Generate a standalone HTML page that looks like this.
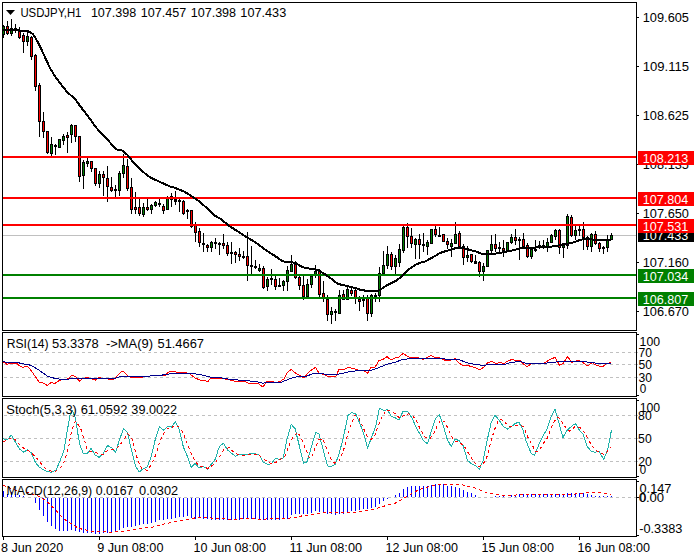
<!DOCTYPE html>
<html><head><meta charset="utf-8"><title>USDJPY,H1</title>
<style>
html,body{margin:0;padding:0;background:#fff;width:700px;height:560px;overflow:hidden}
svg{display:block}
text{font-family:"Liberation Sans", sans-serif;font-size:12.5px;fill-opacity:1}
</style></head><body>
<svg width="700" height="560" viewBox="0 0 700 560" shape-rendering="crispEdges">
<rect x="2" y="2" width="635" height="1" fill="#000"/>
<rect x="2" y="330" width="635" height="1" fill="#000"/>
<rect x="2" y="2" width="1" height="329" fill="#000"/>
<rect x="636" y="2" width="1" height="329" fill="#000"/>
<rect x="2" y="332" width="635" height="1" fill="#000"/>
<rect x="2" y="396" width="635" height="1" fill="#000"/>
<rect x="2" y="332" width="1" height="65" fill="#000"/>
<rect x="636" y="332" width="1" height="65" fill="#000"/>
<rect x="2" y="398" width="635" height="1" fill="#000"/>
<rect x="2" y="477" width="635" height="1" fill="#000"/>
<rect x="2" y="398" width="1" height="80" fill="#000"/>
<rect x="636" y="398" width="1" height="80" fill="#000"/>
<rect x="2" y="479" width="635" height="1" fill="#000"/>
<rect x="2" y="536" width="635" height="1" fill="#000"/>
<rect x="2" y="479" width="1" height="58" fill="#000"/>
<rect x="636" y="479" width="1" height="58" fill="#000"/>
<rect x="3" y="235" width="633" height="1" fill="#c0c0c0"/>
<rect x="3" y="25" width="1" height="13" fill="#000"/>
<rect x="2" y="26" width="3" height="9" fill="#000"/>
<rect x="3" y="27" width="1" height="7" fill="#008000"/>
<rect x="7" y="21" width="1" height="14" fill="#000"/>
<rect x="6" y="26" width="3" height="8" fill="#000"/>
<rect x="7" y="27" width="1" height="6" fill="#ff0000"/>
<rect x="11" y="19" width="1" height="17" fill="#000"/>
<rect x="10" y="28" width="3" height="6" fill="#000"/>
<rect x="11" y="29" width="1" height="4" fill="#008000"/>
<rect x="15" y="24" width="1" height="9" fill="#000"/>
<rect x="14" y="28" width="3" height="3" fill="#000"/>
<rect x="15" y="29" width="1" height="1" fill="#000"/>
<rect x="19" y="27" width="1" height="12" fill="#000"/>
<rect x="18" y="31" width="3" height="7" fill="#000"/>
<rect x="19" y="32" width="1" height="5" fill="#ff0000"/>
<rect x="23" y="33" width="1" height="20" fill="#000"/>
<rect x="22" y="35" width="3" height="7" fill="#000"/>
<rect x="23" y="36" width="1" height="5" fill="#ff0000"/>
<rect x="27" y="32" width="1" height="14" fill="#000"/>
<rect x="26" y="36" width="3" height="6" fill="#000"/>
<rect x="27" y="37" width="1" height="4" fill="#008000"/>
<rect x="31" y="36" width="1" height="24" fill="#000"/>
<rect x="30" y="37" width="3" height="20" fill="#000"/>
<rect x="31" y="38" width="1" height="18" fill="#ff0000"/>
<rect x="35" y="54" width="1" height="37" fill="#000"/>
<rect x="34" y="55" width="3" height="32" fill="#000"/>
<rect x="35" y="56" width="1" height="30" fill="#ff0000"/>
<rect x="39" y="83" width="1" height="54" fill="#000"/>
<rect x="38" y="85" width="3" height="37" fill="#000"/>
<rect x="39" y="86" width="1" height="35" fill="#ff0000"/>
<rect x="43" y="112" width="1" height="26" fill="#000"/>
<rect x="42" y="121" width="3" height="11" fill="#000"/>
<rect x="43" y="122" width="1" height="9" fill="#ff0000"/>
<rect x="47" y="131" width="1" height="23" fill="#000"/>
<rect x="46" y="131" width="3" height="22" fill="#000"/>
<rect x="47" y="132" width="1" height="20" fill="#ff0000"/>
<rect x="51" y="137" width="1" height="20" fill="#000"/>
<rect x="50" y="144" width="3" height="10" fill="#000"/>
<rect x="51" y="145" width="1" height="8" fill="#008000"/>
<rect x="55" y="144" width="1" height="11" fill="#000"/>
<rect x="54" y="145" width="3" height="2" fill="#000"/>
<rect x="59" y="139" width="1" height="9" fill="#000"/>
<rect x="58" y="139" width="3" height="9" fill="#000"/>
<rect x="59" y="140" width="1" height="7" fill="#008000"/>
<rect x="63" y="134" width="1" height="11" fill="#000"/>
<rect x="62" y="136" width="3" height="5" fill="#000"/>
<rect x="63" y="137" width="1" height="3" fill="#008000"/>
<rect x="67" y="132" width="1" height="21" fill="#000"/>
<rect x="66" y="135" width="3" height="3" fill="#000"/>
<rect x="67" y="136" width="1" height="1" fill="#ff0000"/>
<rect x="71" y="124" width="1" height="19" fill="#000"/>
<rect x="70" y="125" width="3" height="10" fill="#000"/>
<rect x="71" y="126" width="1" height="8" fill="#008000"/>
<rect x="75" y="125" width="1" height="17" fill="#000"/>
<rect x="74" y="125" width="3" height="12" fill="#000"/>
<rect x="75" y="126" width="1" height="10" fill="#ff0000"/>
<rect x="79" y="136" width="1" height="46" fill="#000"/>
<rect x="78" y="136" width="3" height="41" fill="#000"/>
<rect x="79" y="137" width="1" height="39" fill="#ff0000"/>
<rect x="83" y="160" width="1" height="29" fill="#000"/>
<rect x="82" y="162" width="3" height="14" fill="#000"/>
<rect x="83" y="163" width="1" height="12" fill="#008000"/>
<rect x="87" y="158" width="1" height="9" fill="#000"/>
<rect x="86" y="161" width="3" height="3" fill="#000"/>
<rect x="87" y="162" width="1" height="1" fill="#008000"/>
<rect x="91" y="161" width="1" height="11" fill="#000"/>
<rect x="90" y="161" width="3" height="8" fill="#000"/>
<rect x="91" y="162" width="1" height="6" fill="#ff0000"/>
<rect x="95" y="168" width="1" height="18" fill="#000"/>
<rect x="94" y="168" width="3" height="16" fill="#000"/>
<rect x="95" y="169" width="1" height="14" fill="#ff0000"/>
<rect x="99" y="171" width="1" height="17" fill="#000"/>
<rect x="98" y="174" width="3" height="10" fill="#000"/>
<rect x="99" y="175" width="1" height="8" fill="#008000"/>
<rect x="103" y="171" width="1" height="25" fill="#000"/>
<rect x="102" y="174" width="3" height="4" fill="#000"/>
<rect x="103" y="175" width="1" height="2" fill="#ff0000"/>
<rect x="107" y="166" width="1" height="36" fill="#000"/>
<rect x="106" y="178" width="3" height="9" fill="#000"/>
<rect x="107" y="179" width="1" height="7" fill="#ff0000"/>
<rect x="111" y="177" width="1" height="15" fill="#000"/>
<rect x="110" y="187" width="3" height="4" fill="#000"/>
<rect x="111" y="188" width="1" height="2" fill="#ff0000"/>
<rect x="115" y="185" width="1" height="13" fill="#000"/>
<rect x="114" y="189" width="3" height="2" fill="#000"/>
<rect x="119" y="171" width="1" height="25" fill="#000"/>
<rect x="118" y="173" width="3" height="18" fill="#000"/>
<rect x="119" y="174" width="1" height="16" fill="#008000"/>
<rect x="123" y="154" width="1" height="24" fill="#000"/>
<rect x="122" y="165" width="3" height="9" fill="#000"/>
<rect x="123" y="166" width="1" height="7" fill="#008000"/>
<rect x="127" y="159" width="1" height="32" fill="#000"/>
<rect x="126" y="166" width="3" height="23" fill="#000"/>
<rect x="127" y="167" width="1" height="21" fill="#ff0000"/>
<rect x="131" y="178" width="1" height="36" fill="#000"/>
<rect x="130" y="187" width="3" height="23" fill="#000"/>
<rect x="131" y="188" width="1" height="21" fill="#ff0000"/>
<rect x="135" y="192" width="1" height="22" fill="#000"/>
<rect x="134" y="207" width="3" height="3" fill="#000"/>
<rect x="135" y="208" width="1" height="1" fill="#ff0000"/>
<rect x="139" y="199" width="1" height="17" fill="#000"/>
<rect x="138" y="207" width="3" height="7" fill="#000"/>
<rect x="139" y="208" width="1" height="5" fill="#ff0000"/>
<rect x="143" y="203" width="1" height="14" fill="#000"/>
<rect x="142" y="207" width="3" height="8" fill="#000"/>
<rect x="143" y="208" width="1" height="6" fill="#008000"/>
<rect x="147" y="199" width="1" height="12" fill="#000"/>
<rect x="146" y="207" width="3" height="3" fill="#000"/>
<rect x="147" y="208" width="1" height="1" fill="#ff0000"/>
<rect x="151" y="204" width="1" height="10" fill="#000"/>
<rect x="150" y="205" width="3" height="5" fill="#000"/>
<rect x="151" y="206" width="1" height="3" fill="#008000"/>
<rect x="155" y="201" width="1" height="6" fill="#000"/>
<rect x="154" y="202" width="3" height="4" fill="#000"/>
<rect x="155" y="203" width="1" height="2" fill="#008000"/>
<rect x="159" y="199" width="1" height="8" fill="#000"/>
<rect x="158" y="203" width="3" height="2" fill="#000"/>
<rect x="163" y="204" width="1" height="10" fill="#000"/>
<rect x="162" y="206" width="3" height="5" fill="#000"/>
<rect x="163" y="207" width="1" height="3" fill="#ff0000"/>
<rect x="167" y="196" width="1" height="14" fill="#000"/>
<rect x="166" y="197" width="3" height="13" fill="#000"/>
<rect x="167" y="198" width="1" height="11" fill="#008000"/>
<rect x="171" y="193" width="1" height="14" fill="#000"/>
<rect x="170" y="196" width="3" height="4" fill="#000"/>
<rect x="171" y="197" width="1" height="2" fill="#008000"/>
<rect x="175" y="191" width="1" height="14" fill="#000"/>
<rect x="174" y="199" width="3" height="3" fill="#000"/>
<rect x="175" y="200" width="1" height="1" fill="#000"/>
<rect x="179" y="199" width="1" height="13" fill="#000"/>
<rect x="178" y="200" width="3" height="2" fill="#000"/>
<rect x="183" y="200" width="1" height="15" fill="#000"/>
<rect x="182" y="201" width="3" height="13" fill="#000"/>
<rect x="183" y="202" width="1" height="11" fill="#ff0000"/>
<rect x="187" y="209" width="1" height="10" fill="#000"/>
<rect x="186" y="210" width="3" height="2" fill="#000"/>
<rect x="191" y="210" width="1" height="18" fill="#000"/>
<rect x="190" y="210" width="3" height="17" fill="#000"/>
<rect x="191" y="211" width="1" height="15" fill="#ff0000"/>
<rect x="195" y="222" width="1" height="20" fill="#000"/>
<rect x="194" y="225" width="3" height="8" fill="#000"/>
<rect x="195" y="226" width="1" height="6" fill="#ff0000"/>
<rect x="199" y="228" width="1" height="19" fill="#000"/>
<rect x="198" y="231" width="3" height="12" fill="#000"/>
<rect x="199" y="232" width="1" height="10" fill="#ff0000"/>
<rect x="203" y="233" width="1" height="19" fill="#000"/>
<rect x="202" y="243" width="3" height="2" fill="#000"/>
<rect x="207" y="244" width="1" height="8" fill="#000"/>
<rect x="206" y="245" width="3" height="3" fill="#000"/>
<rect x="207" y="246" width="1" height="1" fill="#ff0000"/>
<rect x="211" y="241" width="1" height="11" fill="#000"/>
<rect x="210" y="242" width="3" height="6" fill="#000"/>
<rect x="211" y="243" width="1" height="4" fill="#008000"/>
<rect x="215" y="238" width="1" height="11" fill="#000"/>
<rect x="214" y="242" width="3" height="2" fill="#000"/>
<rect x="219" y="242" width="1" height="13" fill="#000"/>
<rect x="218" y="243" width="3" height="2" fill="#000"/>
<rect x="223" y="234" width="1" height="15" fill="#000"/>
<rect x="222" y="243" width="3" height="3" fill="#000"/>
<rect x="223" y="244" width="1" height="1" fill="#ff0000"/>
<rect x="227" y="242" width="1" height="14" fill="#000"/>
<rect x="226" y="245" width="3" height="9" fill="#000"/>
<rect x="227" y="246" width="1" height="7" fill="#ff0000"/>
<rect x="231" y="242" width="1" height="22" fill="#000"/>
<rect x="230" y="252" width="3" height="2" fill="#000"/>
<rect x="235" y="251" width="1" height="12" fill="#000"/>
<rect x="234" y="252" width="3" height="3" fill="#000"/>
<rect x="235" y="253" width="1" height="1" fill="#ff0000"/>
<rect x="239" y="248" width="1" height="13" fill="#000"/>
<rect x="238" y="254" width="3" height="3" fill="#000"/>
<rect x="239" y="255" width="1" height="1" fill="#ff0000"/>
<rect x="243" y="251" width="1" height="8" fill="#000"/>
<rect x="242" y="256" width="3" height="2" fill="#000"/>
<rect x="247" y="232" width="1" height="49" fill="#000"/>
<rect x="246" y="256" width="3" height="10" fill="#000"/>
<rect x="247" y="257" width="1" height="8" fill="#ff0000"/>
<rect x="251" y="246" width="1" height="29" fill="#000"/>
<rect x="250" y="265" width="3" height="2" fill="#000"/>
<rect x="255" y="260" width="1" height="9" fill="#000"/>
<rect x="254" y="266" width="3" height="2" fill="#000"/>
<rect x="259" y="264" width="1" height="8" fill="#000"/>
<rect x="258" y="268" width="3" height="3" fill="#000"/>
<rect x="259" y="269" width="1" height="1" fill="#008000"/>
<rect x="263" y="266" width="1" height="23" fill="#000"/>
<rect x="262" y="268" width="3" height="20" fill="#000"/>
<rect x="263" y="269" width="1" height="18" fill="#ff0000"/>
<rect x="267" y="277" width="1" height="14" fill="#000"/>
<rect x="266" y="279" width="3" height="8" fill="#000"/>
<rect x="267" y="280" width="1" height="6" fill="#008000"/>
<rect x="271" y="269" width="1" height="16" fill="#000"/>
<rect x="270" y="278" width="3" height="2" fill="#000"/>
<rect x="275" y="276" width="1" height="14" fill="#000"/>
<rect x="274" y="279" width="3" height="8" fill="#000"/>
<rect x="275" y="280" width="1" height="6" fill="#ff0000"/>
<rect x="279" y="278" width="1" height="9" fill="#000"/>
<rect x="278" y="285" width="3" height="2" fill="#000"/>
<rect x="283" y="280" width="1" height="11" fill="#000"/>
<rect x="282" y="281" width="3" height="5" fill="#000"/>
<rect x="283" y="282" width="1" height="3" fill="#008000"/>
<rect x="287" y="266" width="1" height="25" fill="#000"/>
<rect x="286" y="270" width="3" height="12" fill="#000"/>
<rect x="287" y="271" width="1" height="10" fill="#008000"/>
<rect x="291" y="255" width="1" height="17" fill="#000"/>
<rect x="290" y="264" width="3" height="8" fill="#000"/>
<rect x="291" y="265" width="1" height="6" fill="#008000"/>
<rect x="295" y="261" width="1" height="18" fill="#000"/>
<rect x="294" y="264" width="3" height="14" fill="#000"/>
<rect x="295" y="265" width="1" height="12" fill="#ff0000"/>
<rect x="299" y="276" width="1" height="14" fill="#000"/>
<rect x="298" y="277" width="3" height="9" fill="#000"/>
<rect x="299" y="278" width="1" height="7" fill="#ff0000"/>
<rect x="303" y="276" width="1" height="24" fill="#000"/>
<rect x="302" y="285" width="3" height="12" fill="#000"/>
<rect x="303" y="286" width="1" height="10" fill="#ff0000"/>
<rect x="307" y="279" width="1" height="18" fill="#000"/>
<rect x="306" y="284" width="3" height="13" fill="#000"/>
<rect x="307" y="285" width="1" height="11" fill="#008000"/>
<rect x="311" y="274" width="1" height="14" fill="#000"/>
<rect x="310" y="276" width="3" height="9" fill="#000"/>
<rect x="311" y="277" width="1" height="7" fill="#008000"/>
<rect x="315" y="265" width="1" height="13" fill="#000"/>
<rect x="314" y="271" width="3" height="5" fill="#000"/>
<rect x="315" y="272" width="1" height="3" fill="#008000"/>
<rect x="319" y="269" width="1" height="28" fill="#000"/>
<rect x="318" y="271" width="3" height="24" fill="#000"/>
<rect x="319" y="272" width="1" height="22" fill="#ff0000"/>
<rect x="323" y="281" width="1" height="21" fill="#000"/>
<rect x="322" y="293" width="3" height="5" fill="#000"/>
<rect x="323" y="294" width="1" height="3" fill="#ff0000"/>
<rect x="327" y="295" width="1" height="26" fill="#000"/>
<rect x="326" y="299" width="3" height="16" fill="#000"/>
<rect x="327" y="300" width="1" height="14" fill="#ff0000"/>
<rect x="331" y="307" width="1" height="17" fill="#000"/>
<rect x="330" y="311" width="3" height="4" fill="#000"/>
<rect x="331" y="312" width="1" height="2" fill="#008000"/>
<rect x="335" y="309" width="1" height="12" fill="#000"/>
<rect x="334" y="311" width="3" height="2" fill="#000"/>
<rect x="339" y="290" width="1" height="24" fill="#000"/>
<rect x="338" y="295" width="3" height="19" fill="#000"/>
<rect x="339" y="296" width="1" height="17" fill="#008000"/>
<rect x="343" y="290" width="1" height="10" fill="#000"/>
<rect x="342" y="294" width="3" height="6" fill="#000"/>
<rect x="343" y="295" width="1" height="4" fill="#ff0000"/>
<rect x="347" y="287" width="1" height="13" fill="#000"/>
<rect x="346" y="289" width="3" height="11" fill="#000"/>
<rect x="347" y="290" width="1" height="9" fill="#008000"/>
<rect x="351" y="288" width="1" height="8" fill="#000"/>
<rect x="350" y="290" width="3" height="4" fill="#000"/>
<rect x="351" y="291" width="1" height="2" fill="#ff0000"/>
<rect x="355" y="289" width="1" height="15" fill="#000"/>
<rect x="354" y="290" width="3" height="8" fill="#000"/>
<rect x="355" y="291" width="1" height="6" fill="#ff0000"/>
<rect x="359" y="296" width="1" height="15" fill="#000"/>
<rect x="358" y="299" width="3" height="3" fill="#000"/>
<rect x="359" y="300" width="1" height="1" fill="#ff0000"/>
<rect x="363" y="295" width="1" height="12" fill="#000"/>
<rect x="362" y="299" width="3" height="2" fill="#000"/>
<rect x="367" y="295" width="1" height="26" fill="#000"/>
<rect x="366" y="298" width="3" height="16" fill="#000"/>
<rect x="367" y="299" width="1" height="14" fill="#ff0000"/>
<rect x="371" y="294" width="1" height="23" fill="#000"/>
<rect x="370" y="295" width="3" height="19" fill="#000"/>
<rect x="371" y="296" width="1" height="17" fill="#008000"/>
<rect x="375" y="293" width="1" height="9" fill="#000"/>
<rect x="374" y="295" width="3" height="2" fill="#000"/>
<rect x="379" y="267" width="1" height="35" fill="#000"/>
<rect x="378" y="273" width="3" height="23" fill="#000"/>
<rect x="379" y="274" width="1" height="21" fill="#008000"/>
<rect x="383" y="251" width="1" height="23" fill="#000"/>
<rect x="382" y="265" width="3" height="9" fill="#000"/>
<rect x="383" y="266" width="1" height="7" fill="#008000"/>
<rect x="387" y="246" width="1" height="23" fill="#000"/>
<rect x="386" y="254" width="3" height="12" fill="#000"/>
<rect x="387" y="255" width="1" height="10" fill="#008000"/>
<rect x="391" y="252" width="1" height="18" fill="#000"/>
<rect x="390" y="254" width="3" height="13" fill="#000"/>
<rect x="391" y="255" width="1" height="11" fill="#ff0000"/>
<rect x="395" y="255" width="1" height="19" fill="#000"/>
<rect x="394" y="258" width="3" height="9" fill="#000"/>
<rect x="395" y="259" width="1" height="7" fill="#008000"/>
<rect x="399" y="244" width="1" height="23" fill="#000"/>
<rect x="398" y="249" width="3" height="14" fill="#000"/>
<rect x="399" y="250" width="1" height="12" fill="#008000"/>
<rect x="403" y="226" width="1" height="27" fill="#000"/>
<rect x="402" y="227" width="3" height="24" fill="#000"/>
<rect x="403" y="228" width="1" height="22" fill="#008000"/>
<rect x="407" y="223" width="1" height="25" fill="#000"/>
<rect x="406" y="227" width="3" height="10" fill="#000"/>
<rect x="407" y="228" width="1" height="8" fill="#ff0000"/>
<rect x="411" y="228" width="1" height="20" fill="#000"/>
<rect x="410" y="236" width="3" height="8" fill="#000"/>
<rect x="411" y="237" width="1" height="6" fill="#ff0000"/>
<rect x="415" y="238" width="1" height="21" fill="#000"/>
<rect x="414" y="239" width="3" height="6" fill="#000"/>
<rect x="415" y="240" width="1" height="4" fill="#008000"/>
<rect x="419" y="234" width="1" height="25" fill="#000"/>
<rect x="418" y="239" width="3" height="6" fill="#000"/>
<rect x="419" y="240" width="1" height="4" fill="#ff0000"/>
<rect x="423" y="233" width="1" height="19" fill="#000"/>
<rect x="422" y="244" width="3" height="2" fill="#000"/>
<rect x="427" y="240" width="1" height="15" fill="#000"/>
<rect x="426" y="242" width="3" height="5" fill="#000"/>
<rect x="427" y="243" width="1" height="3" fill="#008000"/>
<rect x="431" y="229" width="1" height="15" fill="#000"/>
<rect x="430" y="229" width="3" height="15" fill="#000"/>
<rect x="431" y="230" width="1" height="13" fill="#008000"/>
<rect x="435" y="226" width="1" height="11" fill="#000"/>
<rect x="434" y="229" width="3" height="6" fill="#000"/>
<rect x="435" y="230" width="1" height="4" fill="#ff0000"/>
<rect x="439" y="227" width="1" height="10" fill="#000"/>
<rect x="438" y="235" width="3" height="2" fill="#000"/>
<rect x="443" y="234" width="1" height="8" fill="#000"/>
<rect x="442" y="234" width="3" height="8" fill="#000"/>
<rect x="443" y="235" width="1" height="6" fill="#ff0000"/>
<rect x="447" y="238" width="1" height="11" fill="#000"/>
<rect x="446" y="241" width="3" height="4" fill="#000"/>
<rect x="447" y="242" width="1" height="2" fill="#ff0000"/>
<rect x="451" y="239" width="1" height="18" fill="#000"/>
<rect x="450" y="243" width="3" height="4" fill="#000"/>
<rect x="451" y="244" width="1" height="2" fill="#008000"/>
<rect x="455" y="222" width="1" height="22" fill="#000"/>
<rect x="454" y="234" width="3" height="10" fill="#000"/>
<rect x="455" y="235" width="1" height="8" fill="#008000"/>
<rect x="459" y="231" width="1" height="17" fill="#000"/>
<rect x="458" y="233" width="3" height="14" fill="#000"/>
<rect x="459" y="234" width="1" height="12" fill="#ff0000"/>
<rect x="463" y="244" width="1" height="21" fill="#000"/>
<rect x="462" y="246" width="3" height="12" fill="#000"/>
<rect x="463" y="247" width="1" height="10" fill="#ff0000"/>
<rect x="467" y="246" width="1" height="16" fill="#000"/>
<rect x="466" y="255" width="3" height="3" fill="#000"/>
<rect x="467" y="256" width="1" height="1" fill="#008000"/>
<rect x="471" y="254" width="1" height="9" fill="#000"/>
<rect x="470" y="254" width="3" height="8" fill="#000"/>
<rect x="471" y="255" width="1" height="6" fill="#ff0000"/>
<rect x="475" y="255" width="1" height="9" fill="#000"/>
<rect x="474" y="261" width="3" height="3" fill="#000"/>
<rect x="475" y="262" width="1" height="1" fill="#000"/>
<rect x="479" y="261" width="1" height="16" fill="#000"/>
<rect x="478" y="262" width="3" height="10" fill="#000"/>
<rect x="479" y="263" width="1" height="8" fill="#ff0000"/>
<rect x="483" y="263" width="1" height="18" fill="#000"/>
<rect x="482" y="266" width="3" height="6" fill="#000"/>
<rect x="483" y="267" width="1" height="4" fill="#008000"/>
<rect x="487" y="250" width="1" height="17" fill="#000"/>
<rect x="486" y="250" width="3" height="17" fill="#000"/>
<rect x="487" y="251" width="1" height="15" fill="#008000"/>
<rect x="491" y="235" width="1" height="18" fill="#000"/>
<rect x="490" y="244" width="3" height="7" fill="#000"/>
<rect x="491" y="245" width="1" height="5" fill="#008000"/>
<rect x="495" y="234" width="1" height="18" fill="#000"/>
<rect x="494" y="244" width="3" height="5" fill="#000"/>
<rect x="495" y="245" width="1" height="3" fill="#ff0000"/>
<rect x="499" y="242" width="1" height="10" fill="#000"/>
<rect x="498" y="247" width="3" height="2" fill="#000"/>
<rect x="503" y="240" width="1" height="17" fill="#000"/>
<rect x="502" y="248" width="3" height="3" fill="#000"/>
<rect x="503" y="249" width="1" height="1" fill="#ff0000"/>
<rect x="507" y="242" width="1" height="9" fill="#000"/>
<rect x="506" y="242" width="3" height="9" fill="#000"/>
<rect x="507" y="243" width="1" height="7" fill="#008000"/>
<rect x="511" y="234" width="1" height="10" fill="#000"/>
<rect x="510" y="237" width="3" height="6" fill="#000"/>
<rect x="511" y="238" width="1" height="4" fill="#008000"/>
<rect x="515" y="229" width="1" height="16" fill="#000"/>
<rect x="514" y="237" width="3" height="4" fill="#000"/>
<rect x="515" y="238" width="1" height="2" fill="#ff0000"/>
<rect x="519" y="237" width="1" height="23" fill="#000"/>
<rect x="518" y="239" width="3" height="2" fill="#000"/>
<rect x="523" y="233" width="1" height="15" fill="#000"/>
<rect x="522" y="239" width="3" height="8" fill="#000"/>
<rect x="523" y="240" width="1" height="6" fill="#ff0000"/>
<rect x="527" y="243" width="1" height="15" fill="#000"/>
<rect x="526" y="245" width="3" height="12" fill="#000"/>
<rect x="527" y="246" width="1" height="10" fill="#ff0000"/>
<rect x="531" y="247" width="1" height="12" fill="#000"/>
<rect x="530" y="249" width="3" height="8" fill="#000"/>
<rect x="531" y="250" width="1" height="6" fill="#008000"/>
<rect x="535" y="240" width="1" height="12" fill="#000"/>
<rect x="534" y="249" width="3" height="2" fill="#000"/>
<rect x="539" y="241" width="1" height="8" fill="#000"/>
<rect x="538" y="245" width="3" height="3" fill="#000"/>
<rect x="539" y="246" width="1" height="1" fill="#008000"/>
<rect x="543" y="240" width="1" height="9" fill="#000"/>
<rect x="542" y="245" width="3" height="3" fill="#000"/>
<rect x="543" y="246" width="1" height="1" fill="#000"/>
<rect x="547" y="238" width="1" height="14" fill="#000"/>
<rect x="546" y="242" width="3" height="6" fill="#000"/>
<rect x="547" y="243" width="1" height="4" fill="#008000"/>
<rect x="551" y="234" width="1" height="9" fill="#000"/>
<rect x="550" y="235" width="3" height="8" fill="#000"/>
<rect x="551" y="236" width="1" height="6" fill="#008000"/>
<rect x="555" y="229" width="1" height="11" fill="#000"/>
<rect x="554" y="230" width="3" height="7" fill="#000"/>
<rect x="555" y="231" width="1" height="5" fill="#008000"/>
<rect x="559" y="229" width="1" height="25" fill="#000"/>
<rect x="558" y="230" width="3" height="18" fill="#000"/>
<rect x="559" y="231" width="1" height="16" fill="#ff0000"/>
<rect x="563" y="244" width="1" height="14" fill="#000"/>
<rect x="562" y="245" width="3" height="3" fill="#000"/>
<rect x="563" y="246" width="1" height="1" fill="#008000"/>
<rect x="567" y="214" width="1" height="35" fill="#000"/>
<rect x="566" y="216" width="3" height="30" fill="#000"/>
<rect x="567" y="217" width="1" height="28" fill="#008000"/>
<rect x="571" y="215" width="1" height="22" fill="#000"/>
<rect x="570" y="217" width="3" height="19" fill="#000"/>
<rect x="571" y="218" width="1" height="17" fill="#ff0000"/>
<rect x="575" y="226" width="1" height="14" fill="#000"/>
<rect x="574" y="230" width="3" height="6" fill="#000"/>
<rect x="575" y="231" width="1" height="4" fill="#008000"/>
<rect x="579" y="226" width="1" height="10" fill="#000"/>
<rect x="578" y="229" width="3" height="2" fill="#000"/>
<rect x="583" y="222" width="1" height="28" fill="#000"/>
<rect x="582" y="229" width="3" height="9" fill="#000"/>
<rect x="583" y="230" width="1" height="7" fill="#ff0000"/>
<rect x="587" y="236" width="1" height="14" fill="#000"/>
<rect x="586" y="237" width="3" height="10" fill="#000"/>
<rect x="587" y="238" width="1" height="8" fill="#ff0000"/>
<rect x="591" y="233" width="1" height="19" fill="#000"/>
<rect x="590" y="234" width="3" height="13" fill="#000"/>
<rect x="591" y="235" width="1" height="11" fill="#008000"/>
<rect x="595" y="231" width="1" height="14" fill="#000"/>
<rect x="594" y="234" width="3" height="10" fill="#000"/>
<rect x="595" y="235" width="1" height="8" fill="#ff0000"/>
<rect x="599" y="242" width="1" height="10" fill="#000"/>
<rect x="598" y="243" width="3" height="6" fill="#000"/>
<rect x="599" y="244" width="1" height="4" fill="#ff0000"/>
<rect x="603" y="246" width="1" height="8" fill="#000"/>
<rect x="602" y="247" width="3" height="2" fill="#000"/>
<rect x="607" y="235" width="1" height="17" fill="#000"/>
<rect x="606" y="239" width="3" height="9" fill="#000"/>
<rect x="607" y="240" width="1" height="7" fill="#008000"/>
<rect x="611" y="233" width="1" height="7" fill="#000"/>
<rect x="610" y="235" width="3" height="5" fill="#000"/>
<rect x="611" y="236" width="1" height="3" fill="#008000"/>
<rect x="3" y="156" width="633" height="2" fill="#ff0000"/>
<rect x="3" y="197" width="633" height="2" fill="#ff0000"/>
<rect x="3" y="224" width="633" height="2" fill="#ff0000"/>
<rect x="3" y="274" width="633" height="2" fill="#008000"/>
<rect x="3" y="297" width="633" height="2" fill="#008000"/>
<path d="M3.0,29.8 L16.0,30.0 L21.0,30.6 L26.5,30.9 L30.0,31.9 L33.0,34.3 L35.0,37.0 L39.6,45.5 L44.6,56.3 L49.5,67.1 L55.4,77.0 L61.3,84.8 L68.1,93.1 L75.0,98.6 L79.0,104.5 L85.0,112.5 L90.0,118.8 L95.0,126.2 L100.0,131.9 L105.0,136.8 L110.0,142.5 L115.0,148.1 L117.5,149.8 L122.5,150.6 L127.5,155.0 L132.5,161.2 L137.5,166.2 L140.0,169.0 L145.0,173.5 L150.0,177.3 L160.0,182.0 L170.0,186.4 L175.0,187.9 L185.0,192.0 L192.0,196.4 L200.0,202.0 L205.0,206.4 L210.0,210.7 L215.0,215.7 L220.0,218.6 L230.0,226.4 L240.0,232.9 L248.0,237.9 L255.0,242.0 L265.0,249.5 L275.0,256.0 L283.0,261.4 L290.0,262.1 L296.0,262.9 L300.0,266.0 L305.0,267.9 L312.0,268.9 L318.0,270.0 L325.0,274.3 L332.0,279.3 L338.0,284.0 L345.0,285.4 L350.0,286.9 L355.0,287.9 L360.0,289.7 L370.0,291.5 L377.0,291.3 L381.0,289.3 L387.0,285.3 L396.0,280.8 L401.0,277.0 L405.0,273.0 L410.0,268.5 L415.0,265.0 L420.0,262.8 L425.0,261.5 L430.0,258.8 L435.0,256.0 L440.0,253.0 L446.0,251.0 L451.0,249.6 L458.0,247.5 L465.0,248.5 L470.0,250.0 L475.0,251.1 L480.0,253.2 L485.0,254.5 L490.0,254.3 L495.0,253.6 L500.0,252.9 L510.0,251.0 L520.0,248.4 L530.0,247.9 L540.0,247.1 L550.0,246.7 L555.0,246.1 L560.0,245.0 L564.0,243.9 L570.0,243.3 L575.0,241.9 L580.0,240.0 L585.0,238.6 L590.0,239.3 L600.0,240.0 L611.0,240.4" fill="none" stroke="#000" stroke-width="2" stroke-linejoin="round" shape-rendering="crispEdges"/>
<rect x="637" y="17" width="2" height="1" fill="#000"/>
<rect x="637" y="66" width="2" height="1" fill="#000"/>
<rect x="637" y="115" width="2" height="1" fill="#000"/>
<rect x="637" y="164" width="2" height="1" fill="#000"/>
<rect x="637" y="213" width="2" height="1" fill="#000"/>
<rect x="637" y="262" width="2" height="1" fill="#000"/>
<rect x="637" y="311" width="2" height="1" fill="#000"/>
<text x="642.78" y="22" textLength="46.21" lengthAdjust="spacingAndGlyphs">109.605</text>
<text x="642.75" y="71" textLength="46.32" lengthAdjust="spacingAndGlyphs">109.115</text>
<text x="642.78" y="120" textLength="46.21" lengthAdjust="spacingAndGlyphs">108.625</text>
<text x="642.78" y="169" textLength="46.21" lengthAdjust="spacingAndGlyphs">108.135</text>
<text x="642.78" y="218" textLength="46.21" lengthAdjust="spacingAndGlyphs">107.650</text>
<text x="642.78" y="267" textLength="46.21" lengthAdjust="spacingAndGlyphs">107.160</text>
<text x="642.78" y="316" textLength="46.21" lengthAdjust="spacingAndGlyphs">106.670</text>
<rect x="638" y="228" width="56" height="14" fill="#000"/>
<text x="642.79" y="240" textLength="45.50" lengthAdjust="spacingAndGlyphs" fill="#fff">107.433</text>
<rect x="638" y="151" width="56" height="14" fill="#ff0000"/>
<text x="642.79" y="163" textLength="45.50" lengthAdjust="spacingAndGlyphs" fill="#fff">108.213</text>
<rect x="638" y="192" width="56" height="14" fill="#ff0000"/>
<text x="642.79" y="204" textLength="45.50" lengthAdjust="spacingAndGlyphs" fill="#fff">107.804</text>
<rect x="638" y="219" width="56" height="14" fill="#ff0000"/>
<text x="642.79" y="231" textLength="45.50" lengthAdjust="spacingAndGlyphs" fill="#fff">107.531</text>
<rect x="638" y="269" width="56" height="14" fill="#008000"/>
<text x="642.79" y="281" textLength="45.50" lengthAdjust="spacingAndGlyphs" fill="#fff">107.034</text>
<rect x="638" y="292" width="56" height="14" fill="#008000"/>
<text x="642.79" y="304" textLength="45.50" lengthAdjust="spacingAndGlyphs" fill="#fff">106.807</text>
<path d="M6,10 L15,10 L10.5,15 Z" fill="#000" shape-rendering="auto"/>
<text x="20.39" y="17" textLength="61.07" lengthAdjust="spacingAndGlyphs">USDJPY,H1</text>
<text x="90.90" y="17" textLength="45.39" lengthAdjust="spacingAndGlyphs">107.398</text>
<text x="140.80" y="17" textLength="45.39" lengthAdjust="spacingAndGlyphs">107.457</text>
<text x="190.70" y="17" textLength="45.39" lengthAdjust="spacingAndGlyphs">107.398</text>
<text x="240.39" y="17" textLength="45.80" lengthAdjust="spacingAndGlyphs">107.433</text>
<rect x="4" y="352" width="3" height="1" fill="#c0c0c0"/>
<rect x="10" y="352" width="3" height="1" fill="#c0c0c0"/>
<rect x="16" y="352" width="3" height="1" fill="#c0c0c0"/>
<rect x="22" y="352" width="3" height="1" fill="#c0c0c0"/>
<rect x="28" y="352" width="3" height="1" fill="#c0c0c0"/>
<rect x="34" y="352" width="3" height="1" fill="#c0c0c0"/>
<rect x="40" y="352" width="3" height="1" fill="#c0c0c0"/>
<rect x="46" y="352" width="3" height="1" fill="#c0c0c0"/>
<rect x="52" y="352" width="3" height="1" fill="#c0c0c0"/>
<rect x="58" y="352" width="3" height="1" fill="#c0c0c0"/>
<rect x="64" y="352" width="3" height="1" fill="#c0c0c0"/>
<rect x="70" y="352" width="3" height="1" fill="#c0c0c0"/>
<rect x="76" y="352" width="3" height="1" fill="#c0c0c0"/>
<rect x="82" y="352" width="3" height="1" fill="#c0c0c0"/>
<rect x="88" y="352" width="3" height="1" fill="#c0c0c0"/>
<rect x="94" y="352" width="3" height="1" fill="#c0c0c0"/>
<rect x="100" y="352" width="3" height="1" fill="#c0c0c0"/>
<rect x="106" y="352" width="3" height="1" fill="#c0c0c0"/>
<rect x="112" y="352" width="3" height="1" fill="#c0c0c0"/>
<rect x="118" y="352" width="3" height="1" fill="#c0c0c0"/>
<rect x="124" y="352" width="3" height="1" fill="#c0c0c0"/>
<rect x="130" y="352" width="3" height="1" fill="#c0c0c0"/>
<rect x="136" y="352" width="3" height="1" fill="#c0c0c0"/>
<rect x="142" y="352" width="3" height="1" fill="#c0c0c0"/>
<rect x="148" y="352" width="3" height="1" fill="#c0c0c0"/>
<rect x="154" y="352" width="3" height="1" fill="#c0c0c0"/>
<rect x="160" y="352" width="3" height="1" fill="#c0c0c0"/>
<rect x="166" y="352" width="3" height="1" fill="#c0c0c0"/>
<rect x="172" y="352" width="3" height="1" fill="#c0c0c0"/>
<rect x="178" y="352" width="3" height="1" fill="#c0c0c0"/>
<rect x="184" y="352" width="3" height="1" fill="#c0c0c0"/>
<rect x="190" y="352" width="3" height="1" fill="#c0c0c0"/>
<rect x="196" y="352" width="3" height="1" fill="#c0c0c0"/>
<rect x="202" y="352" width="3" height="1" fill="#c0c0c0"/>
<rect x="208" y="352" width="3" height="1" fill="#c0c0c0"/>
<rect x="214" y="352" width="3" height="1" fill="#c0c0c0"/>
<rect x="220" y="352" width="3" height="1" fill="#c0c0c0"/>
<rect x="226" y="352" width="3" height="1" fill="#c0c0c0"/>
<rect x="232" y="352" width="3" height="1" fill="#c0c0c0"/>
<rect x="238" y="352" width="3" height="1" fill="#c0c0c0"/>
<rect x="244" y="352" width="3" height="1" fill="#c0c0c0"/>
<rect x="250" y="352" width="3" height="1" fill="#c0c0c0"/>
<rect x="256" y="352" width="3" height="1" fill="#c0c0c0"/>
<rect x="262" y="352" width="3" height="1" fill="#c0c0c0"/>
<rect x="268" y="352" width="3" height="1" fill="#c0c0c0"/>
<rect x="274" y="352" width="3" height="1" fill="#c0c0c0"/>
<rect x="280" y="352" width="3" height="1" fill="#c0c0c0"/>
<rect x="286" y="352" width="3" height="1" fill="#c0c0c0"/>
<rect x="292" y="352" width="3" height="1" fill="#c0c0c0"/>
<rect x="298" y="352" width="3" height="1" fill="#c0c0c0"/>
<rect x="304" y="352" width="3" height="1" fill="#c0c0c0"/>
<rect x="310" y="352" width="3" height="1" fill="#c0c0c0"/>
<rect x="316" y="352" width="3" height="1" fill="#c0c0c0"/>
<rect x="322" y="352" width="3" height="1" fill="#c0c0c0"/>
<rect x="328" y="352" width="3" height="1" fill="#c0c0c0"/>
<rect x="334" y="352" width="3" height="1" fill="#c0c0c0"/>
<rect x="340" y="352" width="3" height="1" fill="#c0c0c0"/>
<rect x="346" y="352" width="3" height="1" fill="#c0c0c0"/>
<rect x="352" y="352" width="3" height="1" fill="#c0c0c0"/>
<rect x="358" y="352" width="3" height="1" fill="#c0c0c0"/>
<rect x="364" y="352" width="3" height="1" fill="#c0c0c0"/>
<rect x="370" y="352" width="3" height="1" fill="#c0c0c0"/>
<rect x="376" y="352" width="3" height="1" fill="#c0c0c0"/>
<rect x="382" y="352" width="3" height="1" fill="#c0c0c0"/>
<rect x="388" y="352" width="3" height="1" fill="#c0c0c0"/>
<rect x="394" y="352" width="3" height="1" fill="#c0c0c0"/>
<rect x="400" y="352" width="3" height="1" fill="#c0c0c0"/>
<rect x="406" y="352" width="3" height="1" fill="#c0c0c0"/>
<rect x="412" y="352" width="3" height="1" fill="#c0c0c0"/>
<rect x="418" y="352" width="3" height="1" fill="#c0c0c0"/>
<rect x="424" y="352" width="3" height="1" fill="#c0c0c0"/>
<rect x="430" y="352" width="3" height="1" fill="#c0c0c0"/>
<rect x="436" y="352" width="3" height="1" fill="#c0c0c0"/>
<rect x="442" y="352" width="3" height="1" fill="#c0c0c0"/>
<rect x="448" y="352" width="3" height="1" fill="#c0c0c0"/>
<rect x="454" y="352" width="3" height="1" fill="#c0c0c0"/>
<rect x="460" y="352" width="3" height="1" fill="#c0c0c0"/>
<rect x="466" y="352" width="3" height="1" fill="#c0c0c0"/>
<rect x="472" y="352" width="3" height="1" fill="#c0c0c0"/>
<rect x="478" y="352" width="3" height="1" fill="#c0c0c0"/>
<rect x="484" y="352" width="3" height="1" fill="#c0c0c0"/>
<rect x="490" y="352" width="3" height="1" fill="#c0c0c0"/>
<rect x="496" y="352" width="3" height="1" fill="#c0c0c0"/>
<rect x="502" y="352" width="3" height="1" fill="#c0c0c0"/>
<rect x="508" y="352" width="3" height="1" fill="#c0c0c0"/>
<rect x="514" y="352" width="3" height="1" fill="#c0c0c0"/>
<rect x="520" y="352" width="3" height="1" fill="#c0c0c0"/>
<rect x="526" y="352" width="3" height="1" fill="#c0c0c0"/>
<rect x="532" y="352" width="3" height="1" fill="#c0c0c0"/>
<rect x="538" y="352" width="3" height="1" fill="#c0c0c0"/>
<rect x="544" y="352" width="3" height="1" fill="#c0c0c0"/>
<rect x="550" y="352" width="3" height="1" fill="#c0c0c0"/>
<rect x="556" y="352" width="3" height="1" fill="#c0c0c0"/>
<rect x="562" y="352" width="3" height="1" fill="#c0c0c0"/>
<rect x="568" y="352" width="3" height="1" fill="#c0c0c0"/>
<rect x="574" y="352" width="3" height="1" fill="#c0c0c0"/>
<rect x="580" y="352" width="3" height="1" fill="#c0c0c0"/>
<rect x="586" y="352" width="3" height="1" fill="#c0c0c0"/>
<rect x="592" y="352" width="3" height="1" fill="#c0c0c0"/>
<rect x="598" y="352" width="3" height="1" fill="#c0c0c0"/>
<rect x="604" y="352" width="3" height="1" fill="#c0c0c0"/>
<rect x="610" y="352" width="3" height="1" fill="#c0c0c0"/>
<rect x="616" y="352" width="3" height="1" fill="#c0c0c0"/>
<rect x="622" y="352" width="3" height="1" fill="#c0c0c0"/>
<rect x="628" y="352" width="3" height="1" fill="#c0c0c0"/>
<rect x="634" y="352" width="2" height="1" fill="#c0c0c0"/>
<rect x="637" y="352" width="1" height="1" fill="#c0c0c0"/>
<rect x="4" y="364" width="3" height="1" fill="#c0c0c0"/>
<rect x="10" y="364" width="3" height="1" fill="#c0c0c0"/>
<rect x="16" y="364" width="3" height="1" fill="#c0c0c0"/>
<rect x="22" y="364" width="3" height="1" fill="#c0c0c0"/>
<rect x="28" y="364" width="3" height="1" fill="#c0c0c0"/>
<rect x="34" y="364" width="3" height="1" fill="#c0c0c0"/>
<rect x="40" y="364" width="3" height="1" fill="#c0c0c0"/>
<rect x="46" y="364" width="3" height="1" fill="#c0c0c0"/>
<rect x="52" y="364" width="3" height="1" fill="#c0c0c0"/>
<rect x="58" y="364" width="3" height="1" fill="#c0c0c0"/>
<rect x="64" y="364" width="3" height="1" fill="#c0c0c0"/>
<rect x="70" y="364" width="3" height="1" fill="#c0c0c0"/>
<rect x="76" y="364" width="3" height="1" fill="#c0c0c0"/>
<rect x="82" y="364" width="3" height="1" fill="#c0c0c0"/>
<rect x="88" y="364" width="3" height="1" fill="#c0c0c0"/>
<rect x="94" y="364" width="3" height="1" fill="#c0c0c0"/>
<rect x="100" y="364" width="3" height="1" fill="#c0c0c0"/>
<rect x="106" y="364" width="3" height="1" fill="#c0c0c0"/>
<rect x="112" y="364" width="3" height="1" fill="#c0c0c0"/>
<rect x="118" y="364" width="3" height="1" fill="#c0c0c0"/>
<rect x="124" y="364" width="3" height="1" fill="#c0c0c0"/>
<rect x="130" y="364" width="3" height="1" fill="#c0c0c0"/>
<rect x="136" y="364" width="3" height="1" fill="#c0c0c0"/>
<rect x="142" y="364" width="3" height="1" fill="#c0c0c0"/>
<rect x="148" y="364" width="3" height="1" fill="#c0c0c0"/>
<rect x="154" y="364" width="3" height="1" fill="#c0c0c0"/>
<rect x="160" y="364" width="3" height="1" fill="#c0c0c0"/>
<rect x="166" y="364" width="3" height="1" fill="#c0c0c0"/>
<rect x="172" y="364" width="3" height="1" fill="#c0c0c0"/>
<rect x="178" y="364" width="3" height="1" fill="#c0c0c0"/>
<rect x="184" y="364" width="3" height="1" fill="#c0c0c0"/>
<rect x="190" y="364" width="3" height="1" fill="#c0c0c0"/>
<rect x="196" y="364" width="3" height="1" fill="#c0c0c0"/>
<rect x="202" y="364" width="3" height="1" fill="#c0c0c0"/>
<rect x="208" y="364" width="3" height="1" fill="#c0c0c0"/>
<rect x="214" y="364" width="3" height="1" fill="#c0c0c0"/>
<rect x="220" y="364" width="3" height="1" fill="#c0c0c0"/>
<rect x="226" y="364" width="3" height="1" fill="#c0c0c0"/>
<rect x="232" y="364" width="3" height="1" fill="#c0c0c0"/>
<rect x="238" y="364" width="3" height="1" fill="#c0c0c0"/>
<rect x="244" y="364" width="3" height="1" fill="#c0c0c0"/>
<rect x="250" y="364" width="3" height="1" fill="#c0c0c0"/>
<rect x="256" y="364" width="3" height="1" fill="#c0c0c0"/>
<rect x="262" y="364" width="3" height="1" fill="#c0c0c0"/>
<rect x="268" y="364" width="3" height="1" fill="#c0c0c0"/>
<rect x="274" y="364" width="3" height="1" fill="#c0c0c0"/>
<rect x="280" y="364" width="3" height="1" fill="#c0c0c0"/>
<rect x="286" y="364" width="3" height="1" fill="#c0c0c0"/>
<rect x="292" y="364" width="3" height="1" fill="#c0c0c0"/>
<rect x="298" y="364" width="3" height="1" fill="#c0c0c0"/>
<rect x="304" y="364" width="3" height="1" fill="#c0c0c0"/>
<rect x="310" y="364" width="3" height="1" fill="#c0c0c0"/>
<rect x="316" y="364" width="3" height="1" fill="#c0c0c0"/>
<rect x="322" y="364" width="3" height="1" fill="#c0c0c0"/>
<rect x="328" y="364" width="3" height="1" fill="#c0c0c0"/>
<rect x="334" y="364" width="3" height="1" fill="#c0c0c0"/>
<rect x="340" y="364" width="3" height="1" fill="#c0c0c0"/>
<rect x="346" y="364" width="3" height="1" fill="#c0c0c0"/>
<rect x="352" y="364" width="3" height="1" fill="#c0c0c0"/>
<rect x="358" y="364" width="3" height="1" fill="#c0c0c0"/>
<rect x="364" y="364" width="3" height="1" fill="#c0c0c0"/>
<rect x="370" y="364" width="3" height="1" fill="#c0c0c0"/>
<rect x="376" y="364" width="3" height="1" fill="#c0c0c0"/>
<rect x="382" y="364" width="3" height="1" fill="#c0c0c0"/>
<rect x="388" y="364" width="3" height="1" fill="#c0c0c0"/>
<rect x="394" y="364" width="3" height="1" fill="#c0c0c0"/>
<rect x="400" y="364" width="3" height="1" fill="#c0c0c0"/>
<rect x="406" y="364" width="3" height="1" fill="#c0c0c0"/>
<rect x="412" y="364" width="3" height="1" fill="#c0c0c0"/>
<rect x="418" y="364" width="3" height="1" fill="#c0c0c0"/>
<rect x="424" y="364" width="3" height="1" fill="#c0c0c0"/>
<rect x="430" y="364" width="3" height="1" fill="#c0c0c0"/>
<rect x="436" y="364" width="3" height="1" fill="#c0c0c0"/>
<rect x="442" y="364" width="3" height="1" fill="#c0c0c0"/>
<rect x="448" y="364" width="3" height="1" fill="#c0c0c0"/>
<rect x="454" y="364" width="3" height="1" fill="#c0c0c0"/>
<rect x="460" y="364" width="3" height="1" fill="#c0c0c0"/>
<rect x="466" y="364" width="3" height="1" fill="#c0c0c0"/>
<rect x="472" y="364" width="3" height="1" fill="#c0c0c0"/>
<rect x="478" y="364" width="3" height="1" fill="#c0c0c0"/>
<rect x="484" y="364" width="3" height="1" fill="#c0c0c0"/>
<rect x="490" y="364" width="3" height="1" fill="#c0c0c0"/>
<rect x="496" y="364" width="3" height="1" fill="#c0c0c0"/>
<rect x="502" y="364" width="3" height="1" fill="#c0c0c0"/>
<rect x="508" y="364" width="3" height="1" fill="#c0c0c0"/>
<rect x="514" y="364" width="3" height="1" fill="#c0c0c0"/>
<rect x="520" y="364" width="3" height="1" fill="#c0c0c0"/>
<rect x="526" y="364" width="3" height="1" fill="#c0c0c0"/>
<rect x="532" y="364" width="3" height="1" fill="#c0c0c0"/>
<rect x="538" y="364" width="3" height="1" fill="#c0c0c0"/>
<rect x="544" y="364" width="3" height="1" fill="#c0c0c0"/>
<rect x="550" y="364" width="3" height="1" fill="#c0c0c0"/>
<rect x="556" y="364" width="3" height="1" fill="#c0c0c0"/>
<rect x="562" y="364" width="3" height="1" fill="#c0c0c0"/>
<rect x="568" y="364" width="3" height="1" fill="#c0c0c0"/>
<rect x="574" y="364" width="3" height="1" fill="#c0c0c0"/>
<rect x="580" y="364" width="3" height="1" fill="#c0c0c0"/>
<rect x="586" y="364" width="3" height="1" fill="#c0c0c0"/>
<rect x="592" y="364" width="3" height="1" fill="#c0c0c0"/>
<rect x="598" y="364" width="3" height="1" fill="#c0c0c0"/>
<rect x="604" y="364" width="3" height="1" fill="#c0c0c0"/>
<rect x="610" y="364" width="3" height="1" fill="#c0c0c0"/>
<rect x="616" y="364" width="3" height="1" fill="#c0c0c0"/>
<rect x="622" y="364" width="3" height="1" fill="#c0c0c0"/>
<rect x="628" y="364" width="3" height="1" fill="#c0c0c0"/>
<rect x="634" y="364" width="2" height="1" fill="#c0c0c0"/>
<rect x="637" y="364" width="1" height="1" fill="#c0c0c0"/>
<rect x="4" y="377" width="3" height="1" fill="#c0c0c0"/>
<rect x="10" y="377" width="3" height="1" fill="#c0c0c0"/>
<rect x="16" y="377" width="3" height="1" fill="#c0c0c0"/>
<rect x="22" y="377" width="3" height="1" fill="#c0c0c0"/>
<rect x="28" y="377" width="3" height="1" fill="#c0c0c0"/>
<rect x="34" y="377" width="3" height="1" fill="#c0c0c0"/>
<rect x="40" y="377" width="3" height="1" fill="#c0c0c0"/>
<rect x="46" y="377" width="3" height="1" fill="#c0c0c0"/>
<rect x="52" y="377" width="3" height="1" fill="#c0c0c0"/>
<rect x="58" y="377" width="3" height="1" fill="#c0c0c0"/>
<rect x="64" y="377" width="3" height="1" fill="#c0c0c0"/>
<rect x="70" y="377" width="3" height="1" fill="#c0c0c0"/>
<rect x="76" y="377" width="3" height="1" fill="#c0c0c0"/>
<rect x="82" y="377" width="3" height="1" fill="#c0c0c0"/>
<rect x="88" y="377" width="3" height="1" fill="#c0c0c0"/>
<rect x="94" y="377" width="3" height="1" fill="#c0c0c0"/>
<rect x="100" y="377" width="3" height="1" fill="#c0c0c0"/>
<rect x="106" y="377" width="3" height="1" fill="#c0c0c0"/>
<rect x="112" y="377" width="3" height="1" fill="#c0c0c0"/>
<rect x="118" y="377" width="3" height="1" fill="#c0c0c0"/>
<rect x="124" y="377" width="3" height="1" fill="#c0c0c0"/>
<rect x="130" y="377" width="3" height="1" fill="#c0c0c0"/>
<rect x="136" y="377" width="3" height="1" fill="#c0c0c0"/>
<rect x="142" y="377" width="3" height="1" fill="#c0c0c0"/>
<rect x="148" y="377" width="3" height="1" fill="#c0c0c0"/>
<rect x="154" y="377" width="3" height="1" fill="#c0c0c0"/>
<rect x="160" y="377" width="3" height="1" fill="#c0c0c0"/>
<rect x="166" y="377" width="3" height="1" fill="#c0c0c0"/>
<rect x="172" y="377" width="3" height="1" fill="#c0c0c0"/>
<rect x="178" y="377" width="3" height="1" fill="#c0c0c0"/>
<rect x="184" y="377" width="3" height="1" fill="#c0c0c0"/>
<rect x="190" y="377" width="3" height="1" fill="#c0c0c0"/>
<rect x="196" y="377" width="3" height="1" fill="#c0c0c0"/>
<rect x="202" y="377" width="3" height="1" fill="#c0c0c0"/>
<rect x="208" y="377" width="3" height="1" fill="#c0c0c0"/>
<rect x="214" y="377" width="3" height="1" fill="#c0c0c0"/>
<rect x="220" y="377" width="3" height="1" fill="#c0c0c0"/>
<rect x="226" y="377" width="3" height="1" fill="#c0c0c0"/>
<rect x="232" y="377" width="3" height="1" fill="#c0c0c0"/>
<rect x="238" y="377" width="3" height="1" fill="#c0c0c0"/>
<rect x="244" y="377" width="3" height="1" fill="#c0c0c0"/>
<rect x="250" y="377" width="3" height="1" fill="#c0c0c0"/>
<rect x="256" y="377" width="3" height="1" fill="#c0c0c0"/>
<rect x="262" y="377" width="3" height="1" fill="#c0c0c0"/>
<rect x="268" y="377" width="3" height="1" fill="#c0c0c0"/>
<rect x="274" y="377" width="3" height="1" fill="#c0c0c0"/>
<rect x="280" y="377" width="3" height="1" fill="#c0c0c0"/>
<rect x="286" y="377" width="3" height="1" fill="#c0c0c0"/>
<rect x="292" y="377" width="3" height="1" fill="#c0c0c0"/>
<rect x="298" y="377" width="3" height="1" fill="#c0c0c0"/>
<rect x="304" y="377" width="3" height="1" fill="#c0c0c0"/>
<rect x="310" y="377" width="3" height="1" fill="#c0c0c0"/>
<rect x="316" y="377" width="3" height="1" fill="#c0c0c0"/>
<rect x="322" y="377" width="3" height="1" fill="#c0c0c0"/>
<rect x="328" y="377" width="3" height="1" fill="#c0c0c0"/>
<rect x="334" y="377" width="3" height="1" fill="#c0c0c0"/>
<rect x="340" y="377" width="3" height="1" fill="#c0c0c0"/>
<rect x="346" y="377" width="3" height="1" fill="#c0c0c0"/>
<rect x="352" y="377" width="3" height="1" fill="#c0c0c0"/>
<rect x="358" y="377" width="3" height="1" fill="#c0c0c0"/>
<rect x="364" y="377" width="3" height="1" fill="#c0c0c0"/>
<rect x="370" y="377" width="3" height="1" fill="#c0c0c0"/>
<rect x="376" y="377" width="3" height="1" fill="#c0c0c0"/>
<rect x="382" y="377" width="3" height="1" fill="#c0c0c0"/>
<rect x="388" y="377" width="3" height="1" fill="#c0c0c0"/>
<rect x="394" y="377" width="3" height="1" fill="#c0c0c0"/>
<rect x="400" y="377" width="3" height="1" fill="#c0c0c0"/>
<rect x="406" y="377" width="3" height="1" fill="#c0c0c0"/>
<rect x="412" y="377" width="3" height="1" fill="#c0c0c0"/>
<rect x="418" y="377" width="3" height="1" fill="#c0c0c0"/>
<rect x="424" y="377" width="3" height="1" fill="#c0c0c0"/>
<rect x="430" y="377" width="3" height="1" fill="#c0c0c0"/>
<rect x="436" y="377" width="3" height="1" fill="#c0c0c0"/>
<rect x="442" y="377" width="3" height="1" fill="#c0c0c0"/>
<rect x="448" y="377" width="3" height="1" fill="#c0c0c0"/>
<rect x="454" y="377" width="3" height="1" fill="#c0c0c0"/>
<rect x="460" y="377" width="3" height="1" fill="#c0c0c0"/>
<rect x="466" y="377" width="3" height="1" fill="#c0c0c0"/>
<rect x="472" y="377" width="3" height="1" fill="#c0c0c0"/>
<rect x="478" y="377" width="3" height="1" fill="#c0c0c0"/>
<rect x="484" y="377" width="3" height="1" fill="#c0c0c0"/>
<rect x="490" y="377" width="3" height="1" fill="#c0c0c0"/>
<rect x="496" y="377" width="3" height="1" fill="#c0c0c0"/>
<rect x="502" y="377" width="3" height="1" fill="#c0c0c0"/>
<rect x="508" y="377" width="3" height="1" fill="#c0c0c0"/>
<rect x="514" y="377" width="3" height="1" fill="#c0c0c0"/>
<rect x="520" y="377" width="3" height="1" fill="#c0c0c0"/>
<rect x="526" y="377" width="3" height="1" fill="#c0c0c0"/>
<rect x="532" y="377" width="3" height="1" fill="#c0c0c0"/>
<rect x="538" y="377" width="3" height="1" fill="#c0c0c0"/>
<rect x="544" y="377" width="3" height="1" fill="#c0c0c0"/>
<rect x="550" y="377" width="3" height="1" fill="#c0c0c0"/>
<rect x="556" y="377" width="3" height="1" fill="#c0c0c0"/>
<rect x="562" y="377" width="3" height="1" fill="#c0c0c0"/>
<rect x="568" y="377" width="3" height="1" fill="#c0c0c0"/>
<rect x="574" y="377" width="3" height="1" fill="#c0c0c0"/>
<rect x="580" y="377" width="3" height="1" fill="#c0c0c0"/>
<rect x="586" y="377" width="3" height="1" fill="#c0c0c0"/>
<rect x="592" y="377" width="3" height="1" fill="#c0c0c0"/>
<rect x="598" y="377" width="3" height="1" fill="#c0c0c0"/>
<rect x="604" y="377" width="3" height="1" fill="#c0c0c0"/>
<rect x="610" y="377" width="3" height="1" fill="#c0c0c0"/>
<rect x="616" y="377" width="3" height="1" fill="#c0c0c0"/>
<rect x="622" y="377" width="3" height="1" fill="#c0c0c0"/>
<rect x="628" y="377" width="3" height="1" fill="#c0c0c0"/>
<rect x="634" y="377" width="2" height="1" fill="#c0c0c0"/>
<rect x="637" y="377" width="1" height="1" fill="#c0c0c0"/>
<rect x="637" y="334" width="2" height="1" fill="#000"/>
<rect x="637" y="395" width="2" height="1" fill="#000"/>
<path d="M3.1,361.8 L7.1,364.5 L9.4,363.4 L17.3,363.4 L18.9,365.7 L22.8,367.3 L26.7,366.0 L29.1,368.1 L33.8,374.4 L39.3,382.2 L44.0,383.3 L47.2,385.4 L51.1,382.7 L55.0,383.3 L59.7,380.2 L67.6,379.1 L72.3,375.2 L75.5,376.7 L79.4,381.1 L82.5,378.6 L86.5,377.5 L91.2,378.6 L95.1,380.2 L99.0,377.5 L103.8,378.6 L108.5,379.1 L115.0,379.0 L118.0,375.0 L122.0,371.0 L124.0,372.0 L128.0,376.0 L132.0,378.0 L136.0,377.0 L140.0,378.0 L145.0,376.5 L150.0,376.0 L155.0,375.0 L160.0,375.0 L165.0,376.0 L168.0,372.5 L172.0,371.0 L176.0,372.0 L180.0,372.0 L185.0,372.6 L190.0,374.0 L195.0,378.0 L200.0,380.0 L205.0,380.5 L208.0,381.6 L210.0,379.0 L215.0,378.0 L220.0,378.0 L225.0,379.0 L230.0,380.0 L234.0,381.0 L246.0,382.0 L248.0,383.0 L258.0,383.4 L263.0,387.0 L267.0,381.4 L272.0,381.4 L276.0,383.0 L280.0,381.4 L284.0,379.0 L287.0,373.0 L291.0,369.4 L296.0,373.4 L300.0,375.4 L304.0,378.0 L308.0,373.0 L312.0,369.4 L315.6,367.4 L319.0,373.0 L324.0,374.6 L328.0,376.6 L336.0,376.0 L339.0,369.4 L343.0,370.0 L348.0,367.4 L354.0,368.6 L360.0,370.6 L364.0,370.6 L367.6,373.4 L370.4,368.0 L375.0,367.0 L379.0,360.6 L383.0,359.4 L387.0,356.6 L391.0,360.0 L395.0,358.0 L399.0,357.0 L403.0,353.4 L407.0,356.0 L411.0,358.0 L415.0,357.4 L419.0,358.0 L423.0,359.4 L427.0,357.4 L431.0,355.4 L435.0,357.4 L439.0,357.4 L443.0,359.4 L447.0,361.0 L451.0,360.0 L455.0,358.6 L458.0,362.0 L463.0,366.0 L467.0,365.0 L471.0,366.6 L475.0,367.4 L479.6,370.0 L484.0,367.0 L488.0,362.6 L492.0,361.4 L496.0,363.4 L501.0,362.6 L504.0,364.0 L507.0,361.4 L512.0,359.4 L516.0,360.6 L520.0,360.6 L523.0,363.4 L527.0,367.0 L531.0,364.0 L538.0,363.4 L544.0,363.4 L549.0,360.0 L555.0,357.4 L559.6,365.4 L563.0,363.4 L567.6,356.6 L572.0,362.6 L578.0,360.0 L583.0,362.6 L587.6,366.0 L592.0,362.6 L596.0,365.0 L599.0,366.0 L603.6,366.0 L607.0,363.4 L611.0,362.5" fill="none" stroke="#ff0000" stroke-width="1" stroke-linejoin="round" shape-rendering="crispEdges"/>
<path d="M3.1,361.3 L6.3,362.3 L17.3,362.3 L22.0,363.8 L28.3,364.5 L33.0,366.5 L39.3,370.4 L47.2,376.0 L53.5,378.0 L59.7,379.1 L68.4,379.1 L70.8,378.3 L110.0,378.4 L115.0,378.2 L120.0,376.6 L140.0,376.6 L160.0,375.4 L175.0,373.0 L190.0,373.0 L200.0,374.6 L210.0,377.0 L220.0,377.6 L230.0,379.4 L250.0,381.0 L258.0,382.0 L263.0,383.4 L268.0,382.0 L282.0,382.0 L290.0,378.6 L298.0,376.6 L304.0,377.0 L314.0,373.4 L324.0,374.0 L336.0,374.6 L342.0,373.4 L350.0,371.4 L360.0,370.6 L368.0,371.0 L372.0,370.0 L378.0,368.0 L386.0,364.6 L394.0,362.6 L403.0,359.4 L411.0,358.6 L440.0,358.6 L450.0,359.4 L459.0,359.4 L466.0,362.6 L476.0,364.6 L484.0,365.4 L490.0,364.0 L504.0,364.6 L510.0,362.6 L520.0,361.4 L526.0,363.4 L544.0,363.4 L556.0,362.0 L566.0,361.4 L584.0,361.4 L590.0,362.6 L600.0,363.4 L611.0,363.8" fill="none" stroke="#00008b" stroke-width="1" stroke-linejoin="round" shape-rendering="crispEdges"/>
<text x="6.73" y="348" textLength="41.92" lengthAdjust="spacingAndGlyphs">RSI(14)</text>
<text x="52.07" y="348" textLength="46.73" lengthAdjust="spacingAndGlyphs">53.3378</text>
<text x="105.97" y="348" textLength="47.05" lengthAdjust="spacingAndGlyphs">-&gt;MA(9)</text>
<text x="157.47" y="348" textLength="46.52" lengthAdjust="spacingAndGlyphs">51.4667</text>
<text x="639.62" y="346" textLength="20.44" lengthAdjust="spacingAndGlyphs">100</text>
<text x="638.43" y="357" textLength="13.48" lengthAdjust="spacingAndGlyphs">70</text>
<text x="638.43" y="369" textLength="13.48" lengthAdjust="spacingAndGlyphs">50</text>
<text x="638.43" y="382" textLength="13.48" lengthAdjust="spacingAndGlyphs">30</text>
<text x="639.77" y="393" textLength="6.49" lengthAdjust="spacingAndGlyphs">0</text>
<rect x="4" y="415" width="3" height="1" fill="#c0c0c0"/>
<rect x="10" y="415" width="3" height="1" fill="#c0c0c0"/>
<rect x="16" y="415" width="3" height="1" fill="#c0c0c0"/>
<rect x="22" y="415" width="3" height="1" fill="#c0c0c0"/>
<rect x="28" y="415" width="3" height="1" fill="#c0c0c0"/>
<rect x="34" y="415" width="3" height="1" fill="#c0c0c0"/>
<rect x="40" y="415" width="3" height="1" fill="#c0c0c0"/>
<rect x="46" y="415" width="3" height="1" fill="#c0c0c0"/>
<rect x="52" y="415" width="3" height="1" fill="#c0c0c0"/>
<rect x="58" y="415" width="3" height="1" fill="#c0c0c0"/>
<rect x="64" y="415" width="3" height="1" fill="#c0c0c0"/>
<rect x="70" y="415" width="3" height="1" fill="#c0c0c0"/>
<rect x="76" y="415" width="3" height="1" fill="#c0c0c0"/>
<rect x="82" y="415" width="3" height="1" fill="#c0c0c0"/>
<rect x="88" y="415" width="3" height="1" fill="#c0c0c0"/>
<rect x="94" y="415" width="3" height="1" fill="#c0c0c0"/>
<rect x="100" y="415" width="3" height="1" fill="#c0c0c0"/>
<rect x="106" y="415" width="3" height="1" fill="#c0c0c0"/>
<rect x="112" y="415" width="3" height="1" fill="#c0c0c0"/>
<rect x="118" y="415" width="3" height="1" fill="#c0c0c0"/>
<rect x="124" y="415" width="3" height="1" fill="#c0c0c0"/>
<rect x="130" y="415" width="3" height="1" fill="#c0c0c0"/>
<rect x="136" y="415" width="3" height="1" fill="#c0c0c0"/>
<rect x="142" y="415" width="3" height="1" fill="#c0c0c0"/>
<rect x="148" y="415" width="3" height="1" fill="#c0c0c0"/>
<rect x="154" y="415" width="3" height="1" fill="#c0c0c0"/>
<rect x="160" y="415" width="3" height="1" fill="#c0c0c0"/>
<rect x="166" y="415" width="3" height="1" fill="#c0c0c0"/>
<rect x="172" y="415" width="3" height="1" fill="#c0c0c0"/>
<rect x="178" y="415" width="3" height="1" fill="#c0c0c0"/>
<rect x="184" y="415" width="3" height="1" fill="#c0c0c0"/>
<rect x="190" y="415" width="3" height="1" fill="#c0c0c0"/>
<rect x="196" y="415" width="3" height="1" fill="#c0c0c0"/>
<rect x="202" y="415" width="3" height="1" fill="#c0c0c0"/>
<rect x="208" y="415" width="3" height="1" fill="#c0c0c0"/>
<rect x="214" y="415" width="3" height="1" fill="#c0c0c0"/>
<rect x="220" y="415" width="3" height="1" fill="#c0c0c0"/>
<rect x="226" y="415" width="3" height="1" fill="#c0c0c0"/>
<rect x="232" y="415" width="3" height="1" fill="#c0c0c0"/>
<rect x="238" y="415" width="3" height="1" fill="#c0c0c0"/>
<rect x="244" y="415" width="3" height="1" fill="#c0c0c0"/>
<rect x="250" y="415" width="3" height="1" fill="#c0c0c0"/>
<rect x="256" y="415" width="3" height="1" fill="#c0c0c0"/>
<rect x="262" y="415" width="3" height="1" fill="#c0c0c0"/>
<rect x="268" y="415" width="3" height="1" fill="#c0c0c0"/>
<rect x="274" y="415" width="3" height="1" fill="#c0c0c0"/>
<rect x="280" y="415" width="3" height="1" fill="#c0c0c0"/>
<rect x="286" y="415" width="3" height="1" fill="#c0c0c0"/>
<rect x="292" y="415" width="3" height="1" fill="#c0c0c0"/>
<rect x="298" y="415" width="3" height="1" fill="#c0c0c0"/>
<rect x="304" y="415" width="3" height="1" fill="#c0c0c0"/>
<rect x="310" y="415" width="3" height="1" fill="#c0c0c0"/>
<rect x="316" y="415" width="3" height="1" fill="#c0c0c0"/>
<rect x="322" y="415" width="3" height="1" fill="#c0c0c0"/>
<rect x="328" y="415" width="3" height="1" fill="#c0c0c0"/>
<rect x="334" y="415" width="3" height="1" fill="#c0c0c0"/>
<rect x="340" y="415" width="3" height="1" fill="#c0c0c0"/>
<rect x="346" y="415" width="3" height="1" fill="#c0c0c0"/>
<rect x="352" y="415" width="3" height="1" fill="#c0c0c0"/>
<rect x="358" y="415" width="3" height="1" fill="#c0c0c0"/>
<rect x="364" y="415" width="3" height="1" fill="#c0c0c0"/>
<rect x="370" y="415" width="3" height="1" fill="#c0c0c0"/>
<rect x="376" y="415" width="3" height="1" fill="#c0c0c0"/>
<rect x="382" y="415" width="3" height="1" fill="#c0c0c0"/>
<rect x="388" y="415" width="3" height="1" fill="#c0c0c0"/>
<rect x="394" y="415" width="3" height="1" fill="#c0c0c0"/>
<rect x="400" y="415" width="3" height="1" fill="#c0c0c0"/>
<rect x="406" y="415" width="3" height="1" fill="#c0c0c0"/>
<rect x="412" y="415" width="3" height="1" fill="#c0c0c0"/>
<rect x="418" y="415" width="3" height="1" fill="#c0c0c0"/>
<rect x="424" y="415" width="3" height="1" fill="#c0c0c0"/>
<rect x="430" y="415" width="3" height="1" fill="#c0c0c0"/>
<rect x="436" y="415" width="3" height="1" fill="#c0c0c0"/>
<rect x="442" y="415" width="3" height="1" fill="#c0c0c0"/>
<rect x="448" y="415" width="3" height="1" fill="#c0c0c0"/>
<rect x="454" y="415" width="3" height="1" fill="#c0c0c0"/>
<rect x="460" y="415" width="3" height="1" fill="#c0c0c0"/>
<rect x="466" y="415" width="3" height="1" fill="#c0c0c0"/>
<rect x="472" y="415" width="3" height="1" fill="#c0c0c0"/>
<rect x="478" y="415" width="3" height="1" fill="#c0c0c0"/>
<rect x="484" y="415" width="3" height="1" fill="#c0c0c0"/>
<rect x="490" y="415" width="3" height="1" fill="#c0c0c0"/>
<rect x="496" y="415" width="3" height="1" fill="#c0c0c0"/>
<rect x="502" y="415" width="3" height="1" fill="#c0c0c0"/>
<rect x="508" y="415" width="3" height="1" fill="#c0c0c0"/>
<rect x="514" y="415" width="3" height="1" fill="#c0c0c0"/>
<rect x="520" y="415" width="3" height="1" fill="#c0c0c0"/>
<rect x="526" y="415" width="3" height="1" fill="#c0c0c0"/>
<rect x="532" y="415" width="3" height="1" fill="#c0c0c0"/>
<rect x="538" y="415" width="3" height="1" fill="#c0c0c0"/>
<rect x="544" y="415" width="3" height="1" fill="#c0c0c0"/>
<rect x="550" y="415" width="3" height="1" fill="#c0c0c0"/>
<rect x="556" y="415" width="3" height="1" fill="#c0c0c0"/>
<rect x="562" y="415" width="3" height="1" fill="#c0c0c0"/>
<rect x="568" y="415" width="3" height="1" fill="#c0c0c0"/>
<rect x="574" y="415" width="3" height="1" fill="#c0c0c0"/>
<rect x="580" y="415" width="3" height="1" fill="#c0c0c0"/>
<rect x="586" y="415" width="3" height="1" fill="#c0c0c0"/>
<rect x="592" y="415" width="3" height="1" fill="#c0c0c0"/>
<rect x="598" y="415" width="3" height="1" fill="#c0c0c0"/>
<rect x="604" y="415" width="3" height="1" fill="#c0c0c0"/>
<rect x="610" y="415" width="3" height="1" fill="#c0c0c0"/>
<rect x="616" y="415" width="3" height="1" fill="#c0c0c0"/>
<rect x="622" y="415" width="3" height="1" fill="#c0c0c0"/>
<rect x="628" y="415" width="3" height="1" fill="#c0c0c0"/>
<rect x="634" y="415" width="2" height="1" fill="#c0c0c0"/>
<rect x="637" y="415" width="1" height="1" fill="#c0c0c0"/>
<rect x="4" y="438" width="3" height="1" fill="#c0c0c0"/>
<rect x="10" y="438" width="3" height="1" fill="#c0c0c0"/>
<rect x="16" y="438" width="3" height="1" fill="#c0c0c0"/>
<rect x="22" y="438" width="3" height="1" fill="#c0c0c0"/>
<rect x="28" y="438" width="3" height="1" fill="#c0c0c0"/>
<rect x="34" y="438" width="3" height="1" fill="#c0c0c0"/>
<rect x="40" y="438" width="3" height="1" fill="#c0c0c0"/>
<rect x="46" y="438" width="3" height="1" fill="#c0c0c0"/>
<rect x="52" y="438" width="3" height="1" fill="#c0c0c0"/>
<rect x="58" y="438" width="3" height="1" fill="#c0c0c0"/>
<rect x="64" y="438" width="3" height="1" fill="#c0c0c0"/>
<rect x="70" y="438" width="3" height="1" fill="#c0c0c0"/>
<rect x="76" y="438" width="3" height="1" fill="#c0c0c0"/>
<rect x="82" y="438" width="3" height="1" fill="#c0c0c0"/>
<rect x="88" y="438" width="3" height="1" fill="#c0c0c0"/>
<rect x="94" y="438" width="3" height="1" fill="#c0c0c0"/>
<rect x="100" y="438" width="3" height="1" fill="#c0c0c0"/>
<rect x="106" y="438" width="3" height="1" fill="#c0c0c0"/>
<rect x="112" y="438" width="3" height="1" fill="#c0c0c0"/>
<rect x="118" y="438" width="3" height="1" fill="#c0c0c0"/>
<rect x="124" y="438" width="3" height="1" fill="#c0c0c0"/>
<rect x="130" y="438" width="3" height="1" fill="#c0c0c0"/>
<rect x="136" y="438" width="3" height="1" fill="#c0c0c0"/>
<rect x="142" y="438" width="3" height="1" fill="#c0c0c0"/>
<rect x="148" y="438" width="3" height="1" fill="#c0c0c0"/>
<rect x="154" y="438" width="3" height="1" fill="#c0c0c0"/>
<rect x="160" y="438" width="3" height="1" fill="#c0c0c0"/>
<rect x="166" y="438" width="3" height="1" fill="#c0c0c0"/>
<rect x="172" y="438" width="3" height="1" fill="#c0c0c0"/>
<rect x="178" y="438" width="3" height="1" fill="#c0c0c0"/>
<rect x="184" y="438" width="3" height="1" fill="#c0c0c0"/>
<rect x="190" y="438" width="3" height="1" fill="#c0c0c0"/>
<rect x="196" y="438" width="3" height="1" fill="#c0c0c0"/>
<rect x="202" y="438" width="3" height="1" fill="#c0c0c0"/>
<rect x="208" y="438" width="3" height="1" fill="#c0c0c0"/>
<rect x="214" y="438" width="3" height="1" fill="#c0c0c0"/>
<rect x="220" y="438" width="3" height="1" fill="#c0c0c0"/>
<rect x="226" y="438" width="3" height="1" fill="#c0c0c0"/>
<rect x="232" y="438" width="3" height="1" fill="#c0c0c0"/>
<rect x="238" y="438" width="3" height="1" fill="#c0c0c0"/>
<rect x="244" y="438" width="3" height="1" fill="#c0c0c0"/>
<rect x="250" y="438" width="3" height="1" fill="#c0c0c0"/>
<rect x="256" y="438" width="3" height="1" fill="#c0c0c0"/>
<rect x="262" y="438" width="3" height="1" fill="#c0c0c0"/>
<rect x="268" y="438" width="3" height="1" fill="#c0c0c0"/>
<rect x="274" y="438" width="3" height="1" fill="#c0c0c0"/>
<rect x="280" y="438" width="3" height="1" fill="#c0c0c0"/>
<rect x="286" y="438" width="3" height="1" fill="#c0c0c0"/>
<rect x="292" y="438" width="3" height="1" fill="#c0c0c0"/>
<rect x="298" y="438" width="3" height="1" fill="#c0c0c0"/>
<rect x="304" y="438" width="3" height="1" fill="#c0c0c0"/>
<rect x="310" y="438" width="3" height="1" fill="#c0c0c0"/>
<rect x="316" y="438" width="3" height="1" fill="#c0c0c0"/>
<rect x="322" y="438" width="3" height="1" fill="#c0c0c0"/>
<rect x="328" y="438" width="3" height="1" fill="#c0c0c0"/>
<rect x="334" y="438" width="3" height="1" fill="#c0c0c0"/>
<rect x="340" y="438" width="3" height="1" fill="#c0c0c0"/>
<rect x="346" y="438" width="3" height="1" fill="#c0c0c0"/>
<rect x="352" y="438" width="3" height="1" fill="#c0c0c0"/>
<rect x="358" y="438" width="3" height="1" fill="#c0c0c0"/>
<rect x="364" y="438" width="3" height="1" fill="#c0c0c0"/>
<rect x="370" y="438" width="3" height="1" fill="#c0c0c0"/>
<rect x="376" y="438" width="3" height="1" fill="#c0c0c0"/>
<rect x="382" y="438" width="3" height="1" fill="#c0c0c0"/>
<rect x="388" y="438" width="3" height="1" fill="#c0c0c0"/>
<rect x="394" y="438" width="3" height="1" fill="#c0c0c0"/>
<rect x="400" y="438" width="3" height="1" fill="#c0c0c0"/>
<rect x="406" y="438" width="3" height="1" fill="#c0c0c0"/>
<rect x="412" y="438" width="3" height="1" fill="#c0c0c0"/>
<rect x="418" y="438" width="3" height="1" fill="#c0c0c0"/>
<rect x="424" y="438" width="3" height="1" fill="#c0c0c0"/>
<rect x="430" y="438" width="3" height="1" fill="#c0c0c0"/>
<rect x="436" y="438" width="3" height="1" fill="#c0c0c0"/>
<rect x="442" y="438" width="3" height="1" fill="#c0c0c0"/>
<rect x="448" y="438" width="3" height="1" fill="#c0c0c0"/>
<rect x="454" y="438" width="3" height="1" fill="#c0c0c0"/>
<rect x="460" y="438" width="3" height="1" fill="#c0c0c0"/>
<rect x="466" y="438" width="3" height="1" fill="#c0c0c0"/>
<rect x="472" y="438" width="3" height="1" fill="#c0c0c0"/>
<rect x="478" y="438" width="3" height="1" fill="#c0c0c0"/>
<rect x="484" y="438" width="3" height="1" fill="#c0c0c0"/>
<rect x="490" y="438" width="3" height="1" fill="#c0c0c0"/>
<rect x="496" y="438" width="3" height="1" fill="#c0c0c0"/>
<rect x="502" y="438" width="3" height="1" fill="#c0c0c0"/>
<rect x="508" y="438" width="3" height="1" fill="#c0c0c0"/>
<rect x="514" y="438" width="3" height="1" fill="#c0c0c0"/>
<rect x="520" y="438" width="3" height="1" fill="#c0c0c0"/>
<rect x="526" y="438" width="3" height="1" fill="#c0c0c0"/>
<rect x="532" y="438" width="3" height="1" fill="#c0c0c0"/>
<rect x="538" y="438" width="3" height="1" fill="#c0c0c0"/>
<rect x="544" y="438" width="3" height="1" fill="#c0c0c0"/>
<rect x="550" y="438" width="3" height="1" fill="#c0c0c0"/>
<rect x="556" y="438" width="3" height="1" fill="#c0c0c0"/>
<rect x="562" y="438" width="3" height="1" fill="#c0c0c0"/>
<rect x="568" y="438" width="3" height="1" fill="#c0c0c0"/>
<rect x="574" y="438" width="3" height="1" fill="#c0c0c0"/>
<rect x="580" y="438" width="3" height="1" fill="#c0c0c0"/>
<rect x="586" y="438" width="3" height="1" fill="#c0c0c0"/>
<rect x="592" y="438" width="3" height="1" fill="#c0c0c0"/>
<rect x="598" y="438" width="3" height="1" fill="#c0c0c0"/>
<rect x="604" y="438" width="3" height="1" fill="#c0c0c0"/>
<rect x="610" y="438" width="3" height="1" fill="#c0c0c0"/>
<rect x="616" y="438" width="3" height="1" fill="#c0c0c0"/>
<rect x="622" y="438" width="3" height="1" fill="#c0c0c0"/>
<rect x="628" y="438" width="3" height="1" fill="#c0c0c0"/>
<rect x="634" y="438" width="2" height="1" fill="#c0c0c0"/>
<rect x="637" y="438" width="1" height="1" fill="#c0c0c0"/>
<rect x="4" y="461" width="3" height="1" fill="#c0c0c0"/>
<rect x="10" y="461" width="3" height="1" fill="#c0c0c0"/>
<rect x="16" y="461" width="3" height="1" fill="#c0c0c0"/>
<rect x="22" y="461" width="3" height="1" fill="#c0c0c0"/>
<rect x="28" y="461" width="3" height="1" fill="#c0c0c0"/>
<rect x="34" y="461" width="3" height="1" fill="#c0c0c0"/>
<rect x="40" y="461" width="3" height="1" fill="#c0c0c0"/>
<rect x="46" y="461" width="3" height="1" fill="#c0c0c0"/>
<rect x="52" y="461" width="3" height="1" fill="#c0c0c0"/>
<rect x="58" y="461" width="3" height="1" fill="#c0c0c0"/>
<rect x="64" y="461" width="3" height="1" fill="#c0c0c0"/>
<rect x="70" y="461" width="3" height="1" fill="#c0c0c0"/>
<rect x="76" y="461" width="3" height="1" fill="#c0c0c0"/>
<rect x="82" y="461" width="3" height="1" fill="#c0c0c0"/>
<rect x="88" y="461" width="3" height="1" fill="#c0c0c0"/>
<rect x="94" y="461" width="3" height="1" fill="#c0c0c0"/>
<rect x="100" y="461" width="3" height="1" fill="#c0c0c0"/>
<rect x="106" y="461" width="3" height="1" fill="#c0c0c0"/>
<rect x="112" y="461" width="3" height="1" fill="#c0c0c0"/>
<rect x="118" y="461" width="3" height="1" fill="#c0c0c0"/>
<rect x="124" y="461" width="3" height="1" fill="#c0c0c0"/>
<rect x="130" y="461" width="3" height="1" fill="#c0c0c0"/>
<rect x="136" y="461" width="3" height="1" fill="#c0c0c0"/>
<rect x="142" y="461" width="3" height="1" fill="#c0c0c0"/>
<rect x="148" y="461" width="3" height="1" fill="#c0c0c0"/>
<rect x="154" y="461" width="3" height="1" fill="#c0c0c0"/>
<rect x="160" y="461" width="3" height="1" fill="#c0c0c0"/>
<rect x="166" y="461" width="3" height="1" fill="#c0c0c0"/>
<rect x="172" y="461" width="3" height="1" fill="#c0c0c0"/>
<rect x="178" y="461" width="3" height="1" fill="#c0c0c0"/>
<rect x="184" y="461" width="3" height="1" fill="#c0c0c0"/>
<rect x="190" y="461" width="3" height="1" fill="#c0c0c0"/>
<rect x="196" y="461" width="3" height="1" fill="#c0c0c0"/>
<rect x="202" y="461" width="3" height="1" fill="#c0c0c0"/>
<rect x="208" y="461" width="3" height="1" fill="#c0c0c0"/>
<rect x="214" y="461" width="3" height="1" fill="#c0c0c0"/>
<rect x="220" y="461" width="3" height="1" fill="#c0c0c0"/>
<rect x="226" y="461" width="3" height="1" fill="#c0c0c0"/>
<rect x="232" y="461" width="3" height="1" fill="#c0c0c0"/>
<rect x="238" y="461" width="3" height="1" fill="#c0c0c0"/>
<rect x="244" y="461" width="3" height="1" fill="#c0c0c0"/>
<rect x="250" y="461" width="3" height="1" fill="#c0c0c0"/>
<rect x="256" y="461" width="3" height="1" fill="#c0c0c0"/>
<rect x="262" y="461" width="3" height="1" fill="#c0c0c0"/>
<rect x="268" y="461" width="3" height="1" fill="#c0c0c0"/>
<rect x="274" y="461" width="3" height="1" fill="#c0c0c0"/>
<rect x="280" y="461" width="3" height="1" fill="#c0c0c0"/>
<rect x="286" y="461" width="3" height="1" fill="#c0c0c0"/>
<rect x="292" y="461" width="3" height="1" fill="#c0c0c0"/>
<rect x="298" y="461" width="3" height="1" fill="#c0c0c0"/>
<rect x="304" y="461" width="3" height="1" fill="#c0c0c0"/>
<rect x="310" y="461" width="3" height="1" fill="#c0c0c0"/>
<rect x="316" y="461" width="3" height="1" fill="#c0c0c0"/>
<rect x="322" y="461" width="3" height="1" fill="#c0c0c0"/>
<rect x="328" y="461" width="3" height="1" fill="#c0c0c0"/>
<rect x="334" y="461" width="3" height="1" fill="#c0c0c0"/>
<rect x="340" y="461" width="3" height="1" fill="#c0c0c0"/>
<rect x="346" y="461" width="3" height="1" fill="#c0c0c0"/>
<rect x="352" y="461" width="3" height="1" fill="#c0c0c0"/>
<rect x="358" y="461" width="3" height="1" fill="#c0c0c0"/>
<rect x="364" y="461" width="3" height="1" fill="#c0c0c0"/>
<rect x="370" y="461" width="3" height="1" fill="#c0c0c0"/>
<rect x="376" y="461" width="3" height="1" fill="#c0c0c0"/>
<rect x="382" y="461" width="3" height="1" fill="#c0c0c0"/>
<rect x="388" y="461" width="3" height="1" fill="#c0c0c0"/>
<rect x="394" y="461" width="3" height="1" fill="#c0c0c0"/>
<rect x="400" y="461" width="3" height="1" fill="#c0c0c0"/>
<rect x="406" y="461" width="3" height="1" fill="#c0c0c0"/>
<rect x="412" y="461" width="3" height="1" fill="#c0c0c0"/>
<rect x="418" y="461" width="3" height="1" fill="#c0c0c0"/>
<rect x="424" y="461" width="3" height="1" fill="#c0c0c0"/>
<rect x="430" y="461" width="3" height="1" fill="#c0c0c0"/>
<rect x="436" y="461" width="3" height="1" fill="#c0c0c0"/>
<rect x="442" y="461" width="3" height="1" fill="#c0c0c0"/>
<rect x="448" y="461" width="3" height="1" fill="#c0c0c0"/>
<rect x="454" y="461" width="3" height="1" fill="#c0c0c0"/>
<rect x="460" y="461" width="3" height="1" fill="#c0c0c0"/>
<rect x="466" y="461" width="3" height="1" fill="#c0c0c0"/>
<rect x="472" y="461" width="3" height="1" fill="#c0c0c0"/>
<rect x="478" y="461" width="3" height="1" fill="#c0c0c0"/>
<rect x="484" y="461" width="3" height="1" fill="#c0c0c0"/>
<rect x="490" y="461" width="3" height="1" fill="#c0c0c0"/>
<rect x="496" y="461" width="3" height="1" fill="#c0c0c0"/>
<rect x="502" y="461" width="3" height="1" fill="#c0c0c0"/>
<rect x="508" y="461" width="3" height="1" fill="#c0c0c0"/>
<rect x="514" y="461" width="3" height="1" fill="#c0c0c0"/>
<rect x="520" y="461" width="3" height="1" fill="#c0c0c0"/>
<rect x="526" y="461" width="3" height="1" fill="#c0c0c0"/>
<rect x="532" y="461" width="3" height="1" fill="#c0c0c0"/>
<rect x="538" y="461" width="3" height="1" fill="#c0c0c0"/>
<rect x="544" y="461" width="3" height="1" fill="#c0c0c0"/>
<rect x="550" y="461" width="3" height="1" fill="#c0c0c0"/>
<rect x="556" y="461" width="3" height="1" fill="#c0c0c0"/>
<rect x="562" y="461" width="3" height="1" fill="#c0c0c0"/>
<rect x="568" y="461" width="3" height="1" fill="#c0c0c0"/>
<rect x="574" y="461" width="3" height="1" fill="#c0c0c0"/>
<rect x="580" y="461" width="3" height="1" fill="#c0c0c0"/>
<rect x="586" y="461" width="3" height="1" fill="#c0c0c0"/>
<rect x="592" y="461" width="3" height="1" fill="#c0c0c0"/>
<rect x="598" y="461" width="3" height="1" fill="#c0c0c0"/>
<rect x="604" y="461" width="3" height="1" fill="#c0c0c0"/>
<rect x="610" y="461" width="3" height="1" fill="#c0c0c0"/>
<rect x="616" y="461" width="3" height="1" fill="#c0c0c0"/>
<rect x="622" y="461" width="3" height="1" fill="#c0c0c0"/>
<rect x="628" y="461" width="3" height="1" fill="#c0c0c0"/>
<rect x="634" y="461" width="2" height="1" fill="#c0c0c0"/>
<rect x="637" y="461" width="1" height="1" fill="#c0c0c0"/>
<rect x="637" y="400" width="2" height="1" fill="#000"/>
<rect x="637" y="476" width="2" height="1" fill="#000"/>
<path d="M3.1,438.6 L7.1,440.1 L11.3,435.0 L15.7,442.8 L19.7,449.1 L23.6,452.2 L27.5,449.9 L31.4,453.0 L35.4,462.5 L39.3,467.2 L43.2,469.5 L47.2,471.6 L51.9,472.2 L55.8,470.3 L59.7,461.7 L63.7,451.5 L66.8,433.4 L70.0,415.3 L72.6,410.9 L75.5,418.1 L77.8,433.4 L80.2,446.0 L83.3,453.3 L87.3,453.3 L91.2,448.3 L95.1,454.9 L99.0,457.4 L103.1,453.8 L107.5,445.5 L111.8,448.0 L115.7,452.2 L119.7,438.9 L123.6,428.7 L127.5,432.3 L131.4,449.9 L135.4,465.9 L139.3,471.9 L143.2,468.8 L147.2,466.9 L151.1,457.0 L155.0,440.5 L159.4,426.6 L163.7,430.2 L167.6,426.3 L171.5,427.1 L175.5,421.6 L179.4,430.2 L183.3,446.7 L187.3,456.2 L191.2,467.2 L195.1,463.3 L199.0,468.0 L203.0,466.4 L207.5,469.1 L211.8,463.7 L215.7,458.5 L218.1,449.9 L220.4,445.2 L223.6,443.3 L227.5,449.9 L231.4,453.3 L235.4,456.2 L239.3,454.3 L243.2,454.9 L247.2,454.6 L251.1,453.0 L255.8,453.8 L259.7,455.4 L262.9,462.2 L267.6,464.4 L271.5,463.7 L275.5,458.1 L279.4,459.6 L283.3,457.7 L287.3,438.1 L291.2,424.4 L295.1,428.7 L299.0,444.4 L303.5,463.3 L307.1,461.7 L311.0,448.3 L315.7,432.3 L318.9,433.8 L322.8,448.3 L327.5,465.9 L331.4,466.4 L335.4,464.0 L339.3,453.0 L343.2,438.1 L348.0,415.3 L351.9,412.5 L355.8,414.0 L359.7,423.2 L363.7,433.4 L367.6,448.3 L371.5,437.3 L375.5,427.1 L379.4,408.2 L383.3,410.3 L387.3,409.8 L391.2,416.1 L395.1,417.7 L399.0,420.0 L403.0,411.4 L407.7,411.4 L411.8,417.7 L415.7,426.3 L419.7,433.8 L423.6,440.8 L427.5,443.9 L431.4,431.0 L435.4,418.4 L439.3,414.5 L443.2,425.5 L447.2,439.2 L451.1,446.4 L455.0,439.2 L459.0,440.5 L462.9,445.2 L467.6,460.6 L471.5,463.7 L475.5,465.6 L479.4,469.1 L483.3,460.1 L487.3,439.7 L491.2,422.4 L495.1,415.3 L499.0,420.0 L503.1,426.3 L507.5,429.1 L511.8,426.3 L515.7,423.2 L518.9,422.4 L522.8,429.4 L525.9,440.5 L529.1,448.3 L531.4,453.8 L534.6,455.4 L539.3,443.6 L543.2,435.7 L547.2,428.7 L551.1,416.9 L555.0,409.3 L559.0,423.2 L562.9,437.6 L566.8,430.7 L571.5,426.3 L575.5,423.5 L579.4,430.2 L583.3,434.5 L587.3,446.7 L591.2,451.1 L595.1,452.2 L599.0,451.5 L603.8,459.3 L607.7,449.7 L611.5,430.0" fill="none" stroke="#20b2aa" stroke-width="1" stroke-linejoin="round" shape-rendering="crispEdges"/>
<path d="M3.1,442.0 L7.1,439.7 L11.8,437.6 L15.7,440.1 L19.7,444.9 L24.4,448.6 L28.3,450.7 L33.0,454.3 L37.7,459.3 L42.5,465.6 L47.2,470.0 L54.2,471.9 L59.7,468.8 L64.5,460.9 L68.4,448.3 L71.5,431.0 L75.2,421.3 L80.2,427.1 L84.1,438.9 L87.3,449.9 L91.2,451.8 L95.9,452.7 L103.0,454.6 L107.9,449.9 L112.6,449.1 L115.7,449.1 L120.4,444.4 L123.6,440.1 L127.5,433.8 L131.4,437.3 L134.6,448.3 L137.7,460.1 L141.7,468.8 L147.2,470.3 L151.9,464.0 L155.8,454.6 L159.7,442.0 L163.7,433.8 L167.6,428.2 L171.5,427.6 L175.5,425.0 L179.4,427.1 L183.3,433.4 L187.3,443.6 L191.2,453.8 L195.1,460.9 L199.0,466.4 L203.8,467.2 L207.9,468.4 L211.8,465.9 L215.7,462.2 L219.7,456.2 L223.6,449.9 L229.1,447.5 L233.8,452.2 L238.5,454.9 L243.2,455.4 L248.0,454.9 L252.7,453.8 L258.2,454.6 L262.9,458.5 L266.8,461.2 L271.5,464.0 L276.3,462.2 L280.2,459.6 L284.9,456.2 L288.8,446.0 L292.8,437.3 L297.5,432.3 L301.4,438.1 L305.3,448.3 L309.3,457.7 L311.0,458.5 L314.9,448.3 L318.9,439.7 L322.8,438.9 L326.7,448.3 L330.7,458.5 L334.6,463.3 L339.3,460.9 L343.2,451.5 L347.2,436.5 L351.1,423.9 L355.0,415.3 L359.0,418.4 L362.9,427.1 L366.8,435.7 L370.8,439.7 L374.7,435.7 L378.6,424.7 L382.5,416.1 L386.5,409.8 L391.2,411.4 L395.9,414.0 L399.8,418.4 L404.7,415.0 L408.6,413.7 L412.6,415.3 L416.5,421.3 L420.4,429.4 L425.2,437.3 L429.9,438.9 L433.8,433.4 L437.7,424.7 L440.9,420.0 L444.8,421.9 L448.0,428.7 L451.1,435.7 L455.0,441.2 L459.7,442.3 L464.5,446.7 L469.2,454.6 L473.9,461.7 L478.6,466.9 L483.3,464.0 L487.3,455.9 L491.2,440.5 L494.3,430.2 L498.3,420.8 L501.4,419.2 L506.1,423.5 L511.0,427.1 L516.5,425.5 L520.4,425.0 L523.6,427.1 L528.3,438.1 L532.2,444.9 L535.4,451.5 L539.3,450.7 L543.2,443.6 L547.2,438.1 L550.3,430.2 L554.2,421.3 L558.2,417.2 L562.1,421.9 L566.0,428.2 L570.0,431.3 L574.7,426.6 L580.2,427.6 L584.9,433.4 L588.8,440.5 L592.8,446.7 L596.7,450.7 L601.4,453.0 L604.6,454.9 L608.5,450.0 L611.0,446.7" fill="none" stroke="#ff0000" stroke-width="1" stroke-linejoin="round" stroke-dasharray="3,3" shape-rendering="crispEdges"/>
<text x="6.36" y="414" textLength="70.57" lengthAdjust="spacingAndGlyphs">Stoch(5,3,3)</text>
<text x="80.67" y="414" textLength="46.73" lengthAdjust="spacingAndGlyphs">61.0592</text>
<text x="131.39" y="414" textLength="45.70" lengthAdjust="spacingAndGlyphs">39.0022</text>
<text x="639.72" y="412" textLength="20.44" lengthAdjust="spacingAndGlyphs">100</text>
<text x="638.12" y="420" textLength="13.59" lengthAdjust="spacingAndGlyphs">80</text>
<text x="638.12" y="443" textLength="13.59" lengthAdjust="spacingAndGlyphs">50</text>
<text x="638.21" y="466" textLength="13.80" lengthAdjust="spacingAndGlyphs">20</text>
<text x="639.78" y="474" textLength="6.37" lengthAdjust="spacingAndGlyphs">0</text>
<rect x="4" y="497" width="3" height="1" fill="#c0c0c0"/>
<rect x="10" y="497" width="3" height="1" fill="#c0c0c0"/>
<rect x="16" y="497" width="3" height="1" fill="#c0c0c0"/>
<rect x="22" y="497" width="3" height="1" fill="#c0c0c0"/>
<rect x="28" y="497" width="3" height="1" fill="#c0c0c0"/>
<rect x="34" y="497" width="3" height="1" fill="#c0c0c0"/>
<rect x="40" y="497" width="3" height="1" fill="#c0c0c0"/>
<rect x="46" y="497" width="3" height="1" fill="#c0c0c0"/>
<rect x="52" y="497" width="3" height="1" fill="#c0c0c0"/>
<rect x="58" y="497" width="3" height="1" fill="#c0c0c0"/>
<rect x="64" y="497" width="3" height="1" fill="#c0c0c0"/>
<rect x="70" y="497" width="3" height="1" fill="#c0c0c0"/>
<rect x="76" y="497" width="3" height="1" fill="#c0c0c0"/>
<rect x="82" y="497" width="3" height="1" fill="#c0c0c0"/>
<rect x="88" y="497" width="3" height="1" fill="#c0c0c0"/>
<rect x="94" y="497" width="3" height="1" fill="#c0c0c0"/>
<rect x="100" y="497" width="3" height="1" fill="#c0c0c0"/>
<rect x="106" y="497" width="3" height="1" fill="#c0c0c0"/>
<rect x="112" y="497" width="3" height="1" fill="#c0c0c0"/>
<rect x="118" y="497" width="3" height="1" fill="#c0c0c0"/>
<rect x="124" y="497" width="3" height="1" fill="#c0c0c0"/>
<rect x="130" y="497" width="3" height="1" fill="#c0c0c0"/>
<rect x="136" y="497" width="3" height="1" fill="#c0c0c0"/>
<rect x="142" y="497" width="3" height="1" fill="#c0c0c0"/>
<rect x="148" y="497" width="3" height="1" fill="#c0c0c0"/>
<rect x="154" y="497" width="3" height="1" fill="#c0c0c0"/>
<rect x="160" y="497" width="3" height="1" fill="#c0c0c0"/>
<rect x="166" y="497" width="3" height="1" fill="#c0c0c0"/>
<rect x="172" y="497" width="3" height="1" fill="#c0c0c0"/>
<rect x="178" y="497" width="3" height="1" fill="#c0c0c0"/>
<rect x="184" y="497" width="3" height="1" fill="#c0c0c0"/>
<rect x="190" y="497" width="3" height="1" fill="#c0c0c0"/>
<rect x="196" y="497" width="3" height="1" fill="#c0c0c0"/>
<rect x="202" y="497" width="3" height="1" fill="#c0c0c0"/>
<rect x="208" y="497" width="3" height="1" fill="#c0c0c0"/>
<rect x="214" y="497" width="3" height="1" fill="#c0c0c0"/>
<rect x="220" y="497" width="3" height="1" fill="#c0c0c0"/>
<rect x="226" y="497" width="3" height="1" fill="#c0c0c0"/>
<rect x="232" y="497" width="3" height="1" fill="#c0c0c0"/>
<rect x="238" y="497" width="3" height="1" fill="#c0c0c0"/>
<rect x="244" y="497" width="3" height="1" fill="#c0c0c0"/>
<rect x="250" y="497" width="3" height="1" fill="#c0c0c0"/>
<rect x="256" y="497" width="3" height="1" fill="#c0c0c0"/>
<rect x="262" y="497" width="3" height="1" fill="#c0c0c0"/>
<rect x="268" y="497" width="3" height="1" fill="#c0c0c0"/>
<rect x="274" y="497" width="3" height="1" fill="#c0c0c0"/>
<rect x="280" y="497" width="3" height="1" fill="#c0c0c0"/>
<rect x="286" y="497" width="3" height="1" fill="#c0c0c0"/>
<rect x="292" y="497" width="3" height="1" fill="#c0c0c0"/>
<rect x="298" y="497" width="3" height="1" fill="#c0c0c0"/>
<rect x="304" y="497" width="3" height="1" fill="#c0c0c0"/>
<rect x="310" y="497" width="3" height="1" fill="#c0c0c0"/>
<rect x="316" y="497" width="3" height="1" fill="#c0c0c0"/>
<rect x="322" y="497" width="3" height="1" fill="#c0c0c0"/>
<rect x="328" y="497" width="3" height="1" fill="#c0c0c0"/>
<rect x="334" y="497" width="3" height="1" fill="#c0c0c0"/>
<rect x="340" y="497" width="3" height="1" fill="#c0c0c0"/>
<rect x="346" y="497" width="3" height="1" fill="#c0c0c0"/>
<rect x="352" y="497" width="3" height="1" fill="#c0c0c0"/>
<rect x="358" y="497" width="3" height="1" fill="#c0c0c0"/>
<rect x="364" y="497" width="3" height="1" fill="#c0c0c0"/>
<rect x="370" y="497" width="3" height="1" fill="#c0c0c0"/>
<rect x="376" y="497" width="3" height="1" fill="#c0c0c0"/>
<rect x="382" y="497" width="3" height="1" fill="#c0c0c0"/>
<rect x="388" y="497" width="3" height="1" fill="#c0c0c0"/>
<rect x="394" y="497" width="3" height="1" fill="#c0c0c0"/>
<rect x="400" y="497" width="3" height="1" fill="#c0c0c0"/>
<rect x="406" y="497" width="3" height="1" fill="#c0c0c0"/>
<rect x="412" y="497" width="3" height="1" fill="#c0c0c0"/>
<rect x="418" y="497" width="3" height="1" fill="#c0c0c0"/>
<rect x="424" y="497" width="3" height="1" fill="#c0c0c0"/>
<rect x="430" y="497" width="3" height="1" fill="#c0c0c0"/>
<rect x="436" y="497" width="3" height="1" fill="#c0c0c0"/>
<rect x="442" y="497" width="3" height="1" fill="#c0c0c0"/>
<rect x="448" y="497" width="3" height="1" fill="#c0c0c0"/>
<rect x="454" y="497" width="3" height="1" fill="#c0c0c0"/>
<rect x="460" y="497" width="3" height="1" fill="#c0c0c0"/>
<rect x="466" y="497" width="3" height="1" fill="#c0c0c0"/>
<rect x="472" y="497" width="3" height="1" fill="#c0c0c0"/>
<rect x="478" y="497" width="3" height="1" fill="#c0c0c0"/>
<rect x="484" y="497" width="3" height="1" fill="#c0c0c0"/>
<rect x="490" y="497" width="3" height="1" fill="#c0c0c0"/>
<rect x="496" y="497" width="3" height="1" fill="#c0c0c0"/>
<rect x="502" y="497" width="3" height="1" fill="#c0c0c0"/>
<rect x="508" y="497" width="3" height="1" fill="#c0c0c0"/>
<rect x="514" y="497" width="3" height="1" fill="#c0c0c0"/>
<rect x="520" y="497" width="3" height="1" fill="#c0c0c0"/>
<rect x="526" y="497" width="3" height="1" fill="#c0c0c0"/>
<rect x="532" y="497" width="3" height="1" fill="#c0c0c0"/>
<rect x="538" y="497" width="3" height="1" fill="#c0c0c0"/>
<rect x="544" y="497" width="3" height="1" fill="#c0c0c0"/>
<rect x="550" y="497" width="3" height="1" fill="#c0c0c0"/>
<rect x="556" y="497" width="3" height="1" fill="#c0c0c0"/>
<rect x="562" y="497" width="3" height="1" fill="#c0c0c0"/>
<rect x="568" y="497" width="3" height="1" fill="#c0c0c0"/>
<rect x="574" y="497" width="3" height="1" fill="#c0c0c0"/>
<rect x="580" y="497" width="3" height="1" fill="#c0c0c0"/>
<rect x="586" y="497" width="3" height="1" fill="#c0c0c0"/>
<rect x="592" y="497" width="3" height="1" fill="#c0c0c0"/>
<rect x="598" y="497" width="3" height="1" fill="#c0c0c0"/>
<rect x="604" y="497" width="3" height="1" fill="#c0c0c0"/>
<rect x="610" y="497" width="3" height="1" fill="#c0c0c0"/>
<rect x="616" y="497" width="3" height="1" fill="#c0c0c0"/>
<rect x="622" y="497" width="3" height="1" fill="#c0c0c0"/>
<rect x="628" y="497" width="3" height="1" fill="#c0c0c0"/>
<rect x="634" y="497" width="2" height="1" fill="#c0c0c0"/>
<rect x="637" y="481" width="2" height="1" fill="#000"/>
<rect x="637" y="497" width="2" height="1" fill="#000"/>
<rect x="637" y="535" width="2" height="1" fill="#000"/>
<rect x="3" y="491" width="1" height="6" fill="#0000ff"/>
<rect x="7" y="494" width="1" height="3" fill="#0000ff"/>
<rect x="11" y="492" width="1" height="5" fill="#0000ff"/>
<rect x="15" y="494" width="1" height="3" fill="#0000ff"/>
<rect x="19" y="495" width="1" height="2" fill="#0000ff"/>
<rect x="23" y="496" width="1" height="1" fill="#0000ff"/>
<rect x="35" y="498" width="1" height="5" fill="#0000ff"/>
<rect x="39" y="498" width="1" height="12" fill="#0000ff"/>
<rect x="43" y="498" width="1" height="18" fill="#0000ff"/>
<rect x="47" y="498" width="1" height="24" fill="#0000ff"/>
<rect x="51" y="498" width="1" height="28" fill="#0000ff"/>
<rect x="55" y="498" width="1" height="31" fill="#0000ff"/>
<rect x="59" y="498" width="1" height="33" fill="#0000ff"/>
<rect x="63" y="498" width="1" height="33" fill="#0000ff"/>
<rect x="67" y="498" width="1" height="33" fill="#0000ff"/>
<rect x="71" y="498" width="1" height="32" fill="#0000ff"/>
<rect x="75" y="498" width="1" height="33" fill="#0000ff"/>
<rect x="79" y="498" width="1" height="34" fill="#0000ff"/>
<rect x="83" y="498" width="1" height="35" fill="#0000ff"/>
<rect x="87" y="498" width="1" height="35" fill="#0000ff"/>
<rect x="91" y="498" width="1" height="35" fill="#0000ff"/>
<rect x="95" y="498" width="1" height="36" fill="#0000ff"/>
<rect x="99" y="498" width="1" height="36" fill="#0000ff"/>
<rect x="103" y="498" width="1" height="35" fill="#0000ff"/>
<rect x="107" y="498" width="1" height="35" fill="#0000ff"/>
<rect x="111" y="498" width="1" height="35" fill="#0000ff"/>
<rect x="115" y="498" width="1" height="33" fill="#0000ff"/>
<rect x="119" y="498" width="1" height="32" fill="#0000ff"/>
<rect x="123" y="498" width="1" height="30" fill="#0000ff"/>
<rect x="127" y="498" width="1" height="29" fill="#0000ff"/>
<rect x="131" y="498" width="1" height="29" fill="#0000ff"/>
<rect x="135" y="498" width="1" height="28" fill="#0000ff"/>
<rect x="139" y="498" width="1" height="27" fill="#0000ff"/>
<rect x="143" y="498" width="1" height="26" fill="#0000ff"/>
<rect x="147" y="498" width="1" height="26" fill="#0000ff"/>
<rect x="151" y="498" width="1" height="25" fill="#0000ff"/>
<rect x="155" y="498" width="1" height="24" fill="#0000ff"/>
<rect x="159" y="498" width="1" height="22" fill="#0000ff"/>
<rect x="163" y="498" width="1" height="22" fill="#0000ff"/>
<rect x="167" y="498" width="1" height="21" fill="#0000ff"/>
<rect x="171" y="498" width="1" height="21" fill="#0000ff"/>
<rect x="175" y="498" width="1" height="20" fill="#0000ff"/>
<rect x="179" y="498" width="1" height="19" fill="#0000ff"/>
<rect x="183" y="498" width="1" height="19" fill="#0000ff"/>
<rect x="187" y="498" width="1" height="18" fill="#0000ff"/>
<rect x="191" y="498" width="1" height="20" fill="#0000ff"/>
<rect x="195" y="498" width="1" height="21" fill="#0000ff"/>
<rect x="199" y="498" width="1" height="20" fill="#0000ff"/>
<rect x="203" y="498" width="1" height="21" fill="#0000ff"/>
<rect x="207" y="498" width="1" height="21" fill="#0000ff"/>
<rect x="211" y="498" width="1" height="22" fill="#0000ff"/>
<rect x="215" y="498" width="1" height="22" fill="#0000ff"/>
<rect x="219" y="498" width="1" height="22" fill="#0000ff"/>
<rect x="223" y="498" width="1" height="22" fill="#0000ff"/>
<rect x="227" y="498" width="1" height="22" fill="#0000ff"/>
<rect x="231" y="498" width="1" height="22" fill="#0000ff"/>
<rect x="235" y="498" width="1" height="22" fill="#0000ff"/>
<rect x="239" y="498" width="1" height="22" fill="#0000ff"/>
<rect x="243" y="498" width="1" height="21" fill="#0000ff"/>
<rect x="247" y="498" width="1" height="21" fill="#0000ff"/>
<rect x="251" y="498" width="1" height="21" fill="#0000ff"/>
<rect x="255" y="498" width="1" height="21" fill="#0000ff"/>
<rect x="259" y="498" width="1" height="21" fill="#0000ff"/>
<rect x="263" y="498" width="1" height="22" fill="#0000ff"/>
<rect x="267" y="498" width="1" height="22" fill="#0000ff"/>
<rect x="271" y="498" width="1" height="22" fill="#0000ff"/>
<rect x="275" y="498" width="1" height="22" fill="#0000ff"/>
<rect x="279" y="498" width="1" height="22" fill="#0000ff"/>
<rect x="283" y="498" width="1" height="21" fill="#0000ff"/>
<rect x="287" y="498" width="1" height="21" fill="#0000ff"/>
<rect x="291" y="498" width="1" height="17" fill="#0000ff"/>
<rect x="295" y="498" width="1" height="16" fill="#0000ff"/>
<rect x="299" y="498" width="1" height="16" fill="#0000ff"/>
<rect x="303" y="498" width="1" height="16" fill="#0000ff"/>
<rect x="307" y="498" width="1" height="16" fill="#0000ff"/>
<rect x="311" y="498" width="1" height="15" fill="#0000ff"/>
<rect x="315" y="498" width="1" height="13" fill="#0000ff"/>
<rect x="319" y="498" width="1" height="14" fill="#0000ff"/>
<rect x="323" y="498" width="1" height="15" fill="#0000ff"/>
<rect x="327" y="498" width="1" height="16" fill="#0000ff"/>
<rect x="331" y="498" width="1" height="16" fill="#0000ff"/>
<rect x="335" y="498" width="1" height="17" fill="#0000ff"/>
<rect x="339" y="498" width="1" height="16" fill="#0000ff"/>
<rect x="343" y="498" width="1" height="16" fill="#0000ff"/>
<rect x="347" y="498" width="1" height="14" fill="#0000ff"/>
<rect x="351" y="498" width="1" height="13" fill="#0000ff"/>
<rect x="355" y="498" width="1" height="13" fill="#0000ff"/>
<rect x="359" y="498" width="1" height="12" fill="#0000ff"/>
<rect x="363" y="498" width="1" height="11" fill="#0000ff"/>
<rect x="367" y="498" width="1" height="11" fill="#0000ff"/>
<rect x="371" y="498" width="1" height="10" fill="#0000ff"/>
<rect x="375" y="498" width="1" height="9" fill="#0000ff"/>
<rect x="379" y="498" width="1" height="6" fill="#0000ff"/>
<rect x="383" y="498" width="1" height="3" fill="#0000ff"/>
<rect x="387" y="498" width="1" height="1" fill="#0000ff"/>
<rect x="395" y="495" width="1" height="2" fill="#0000ff"/>
<rect x="399" y="493" width="1" height="4" fill="#0000ff"/>
<rect x="403" y="489" width="1" height="8" fill="#0000ff"/>
<rect x="407" y="487" width="1" height="10" fill="#0000ff"/>
<rect x="411" y="486" width="1" height="11" fill="#0000ff"/>
<rect x="415" y="486" width="1" height="11" fill="#0000ff"/>
<rect x="419" y="486" width="1" height="11" fill="#0000ff"/>
<rect x="423" y="486" width="1" height="11" fill="#0000ff"/>
<rect x="427" y="486" width="1" height="11" fill="#0000ff"/>
<rect x="431" y="485" width="1" height="12" fill="#0000ff"/>
<rect x="435" y="484" width="1" height="13" fill="#0000ff"/>
<rect x="439" y="484" width="1" height="13" fill="#0000ff"/>
<rect x="443" y="484" width="1" height="13" fill="#0000ff"/>
<rect x="447" y="486" width="1" height="11" fill="#0000ff"/>
<rect x="451" y="486" width="1" height="11" fill="#0000ff"/>
<rect x="455" y="487" width="1" height="10" fill="#0000ff"/>
<rect x="459" y="488" width="1" height="9" fill="#0000ff"/>
<rect x="463" y="490" width="1" height="7" fill="#0000ff"/>
<rect x="467" y="492" width="1" height="5" fill="#0000ff"/>
<rect x="471" y="493" width="1" height="4" fill="#0000ff"/>
<rect x="475" y="495" width="1" height="2" fill="#0000ff"/>
<rect x="495" y="496" width="1" height="1" fill="#0000ff"/>
<rect x="499" y="496" width="1" height="1" fill="#0000ff"/>
<rect x="503" y="496" width="1" height="1" fill="#0000ff"/>
<rect x="511" y="495" width="1" height="2" fill="#0000ff"/>
<rect x="515" y="495" width="1" height="2" fill="#0000ff"/>
<rect x="519" y="494" width="1" height="3" fill="#0000ff"/>
<rect x="523" y="494" width="1" height="3" fill="#0000ff"/>
<rect x="527" y="495" width="1" height="2" fill="#0000ff"/>
<rect x="531" y="494" width="1" height="3" fill="#0000ff"/>
<rect x="535" y="494" width="1" height="3" fill="#0000ff"/>
<rect x="539" y="494" width="1" height="3" fill="#0000ff"/>
<rect x="543" y="494" width="1" height="3" fill="#0000ff"/>
<rect x="547" y="494" width="1" height="3" fill="#0000ff"/>
<rect x="551" y="494" width="1" height="3" fill="#0000ff"/>
<rect x="555" y="494" width="1" height="3" fill="#0000ff"/>
<rect x="559" y="494" width="1" height="3" fill="#0000ff"/>
<rect x="563" y="494" width="1" height="3" fill="#0000ff"/>
<rect x="567" y="493" width="1" height="4" fill="#0000ff"/>
<rect x="571" y="493" width="1" height="4" fill="#0000ff"/>
<rect x="575" y="493" width="1" height="4" fill="#0000ff"/>
<rect x="579" y="493" width="1" height="4" fill="#0000ff"/>
<rect x="583" y="493" width="1" height="4" fill="#0000ff"/>
<rect x="587" y="494" width="1" height="3" fill="#0000ff"/>
<rect x="591" y="495" width="1" height="2" fill="#0000ff"/>
<rect x="595" y="496" width="1" height="1" fill="#0000ff"/>
<rect x="599" y="496" width="1" height="1" fill="#0000ff"/>
<rect x="603" y="496" width="1" height="1" fill="#0000ff"/>
<rect x="607" y="496" width="1" height="1" fill="#0000ff"/>
<rect x="611" y="496" width="1" height="1" fill="#0000ff"/>
<path d="M3.0,485.0 L12.6,489.3 L20.4,491.4 L28.3,492.5 L39.3,496.6 L47.2,501.6 L55.0,509.4 L62.9,518.1 L70.8,523.6 L78.6,528.3 L86.5,530.2 L94.3,531.5 L102.2,531.8 L110.0,532.2 L121.0,531.6 L134.0,529.4 L153.6,526.9 L164.0,524.0 L175.0,521.9 L186.0,519.8 L196.4,517.6 L207.0,517.6 L218.0,518.7 L228.6,519.1 L250.0,518.9 L261.0,519.1 L283.0,518.7 L293.6,517.6 L304.0,515.5 L315.0,514.0 L325.7,512.7 L336.4,512.7 L347.0,512.7 L357.9,511.9 L368.6,510.6 L377.0,508.4 L383.6,506.3 L388.6,504.8 L397.0,502.6 L405.7,497.3 L414.3,491.9 L422.9,488.3 L431.4,486.1 L440.0,484.4 L450.7,484.4 L461.4,484.4 L467.9,486.6 L474.3,487.6 L480.7,490.4 L487.1,492.6 L493.6,494.1 L502.1,495.1 L510.7,495.6 L519.3,494.7 L527.9,494.7 L540.0,494.7 L560.0,494.5 L575.0,494.0 L585.0,492.8 L595.0,492.6 L605.0,493.2 L611.0,494.7" fill="none" stroke="#ff0000" stroke-width="1" stroke-linejoin="round" stroke-dasharray="3,3" shape-rendering="crispEdges"/>
<text x="6.41" y="495" textLength="85.82" lengthAdjust="spacingAndGlyphs">MACD(12,26,9)</text>
<text x="95.82" y="495" textLength="37.51" lengthAdjust="spacingAndGlyphs">0.0167</text>
<text x="139.08" y="495" textLength="39.06" lengthAdjust="spacingAndGlyphs">0.0302</text>
<text x="639.48" y="493" textLength="32.01" lengthAdjust="spacingAndGlyphs">0.147</text>
<text x="638.65" y="502" textLength="25.51" lengthAdjust="spacingAndGlyphs">0.00</text>
<text x="639.77" y="502" textLength="6.49" lengthAdjust="spacingAndGlyphs">0</text>
<text x="639.18" y="533" textLength="43.23" lengthAdjust="spacingAndGlyphs">-0.3383</text>
<rect x="3" y="537" width="1" height="3" fill="#000"/>
<rect x="99" y="537" width="1" height="3" fill="#000"/>
<rect x="195" y="537" width="1" height="3" fill="#000"/>
<rect x="291" y="537" width="1" height="3" fill="#000"/>
<rect x="387" y="537" width="1" height="3" fill="#000"/>
<rect x="483" y="537" width="1" height="3" fill="#000"/>
<rect x="579" y="537" width="1" height="3" fill="#000"/>
<text x="1.10" y="552" textLength="62.16" lengthAdjust="spacingAndGlyphs">8 Jun 2020</text>
<text x="97.19" y="552" textLength="66.26" lengthAdjust="spacingAndGlyphs">9 Jun 08:00</text>
<text x="193.50" y="552" textLength="72.50" lengthAdjust="spacingAndGlyphs">10 Jun 08:00</text>
<text x="289.48" y="552" textLength="72.58" lengthAdjust="spacingAndGlyphs">11 Jun 08:00</text>
<text x="385.50" y="552" textLength="72.50" lengthAdjust="spacingAndGlyphs">12 Jun 08:00</text>
<text x="481.50" y="552" textLength="72.50" lengthAdjust="spacingAndGlyphs">15 Jun 08:00</text>
<text x="577.50" y="552" textLength="72.50" lengthAdjust="spacingAndGlyphs">16 Jun 08:00</text>
</svg>
</body></html>
